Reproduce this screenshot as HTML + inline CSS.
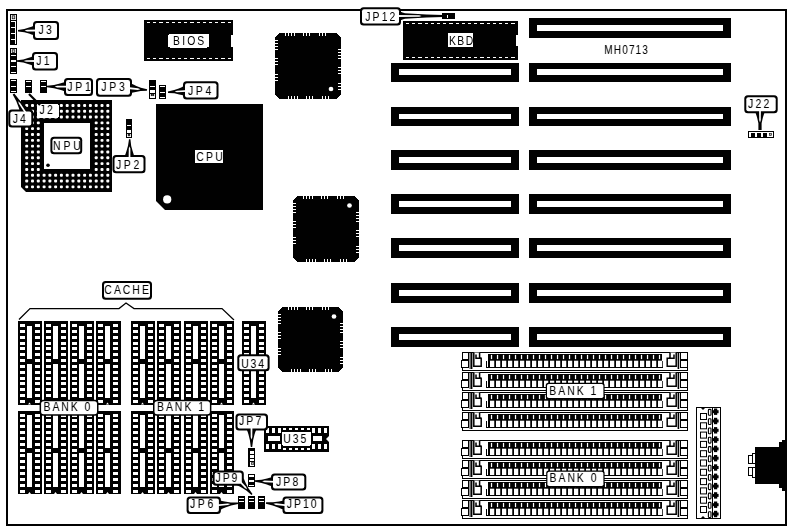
<!DOCTYPE html>
<html><head><meta charset="utf-8"><title>MH0713</title>
<style>
html,body{margin:0;padding:0;background:#fff;}
body{width:791px;height:531px;overflow:hidden;}
svg{display:block;filter:grayscale(1);}
svg text{font-family:"Liberation Sans",sans-serif;}
svg rect,svg line{shape-rendering:crispEdges;}
</style></head><body>
<svg width="791" height="531" viewBox="0 0 791 531">
<rect x="0" y="0" width="791" height="531" fill="#fff"/>
<g opacity="0.999">
<rect x="7" y="10" width="779" height="515" fill="#fff" stroke="#000" stroke-width="2"/>
<rect x="529" y="18" width="202" height="20" fill="#000" />
<rect x="537" y="25" width="186" height="6" fill="#fff" />
<rect x="529" y="63" width="202" height="19" fill="#000" />
<rect x="537" y="69" width="186" height="6" fill="#fff" />
<rect x="391" y="63" width="128" height="19" fill="#000" />
<rect x="399" y="69" width="112" height="6" fill="#fff" />
<rect x="529" y="107" width="202" height="19" fill="#000" />
<rect x="537" y="114" width="186" height="5" fill="#fff" />
<rect x="391" y="107" width="128" height="19" fill="#000" />
<rect x="399" y="114" width="112" height="5" fill="#fff" />
<rect x="529" y="150" width="202" height="20" fill="#000" />
<rect x="537" y="157" width="186" height="6" fill="#fff" />
<rect x="391" y="150" width="128" height="20" fill="#000" />
<rect x="399" y="157" width="112" height="6" fill="#fff" />
<rect x="529" y="194" width="202" height="20" fill="#000" />
<rect x="537" y="201" width="186" height="6" fill="#fff" />
<rect x="391" y="194" width="128" height="20" fill="#000" />
<rect x="399" y="201" width="112" height="6" fill="#fff" />
<rect x="529" y="238" width="202" height="20" fill="#000" />
<rect x="537" y="245" width="186" height="6" fill="#fff" />
<rect x="391" y="238" width="128" height="20" fill="#000" />
<rect x="399" y="245" width="112" height="6" fill="#fff" />
<rect x="529" y="283" width="202" height="20" fill="#000" />
<rect x="537" y="290" width="186" height="6" fill="#fff" />
<rect x="391" y="283" width="128" height="20" fill="#000" />
<rect x="399" y="290" width="112" height="6" fill="#fff" />
<rect x="529" y="327" width="202" height="20" fill="#000" />
<rect x="537" y="334" width="186" height="6" fill="#fff" />
<rect x="391" y="327" width="128" height="20" fill="#000" />
<rect x="399" y="334" width="112" height="6" fill="#fff" />
<rect x="144" y="20" width="89" height="41" fill="#000" />
<line x1="147" y1="22.5" x2="231" y2="22.5" stroke="#fff" stroke-width="1" stroke-dasharray="3.2 3"/>
<line x1="147" y1="58.5" x2="231" y2="58.5" stroke="#fff" stroke-width="1" stroke-dasharray="3.2 3"/>
<rect x="231" y="35" width="2" height="12" fill="#fff" />
<rect x="403" y="21" width="115" height="39" fill="#000" />
<line x1="406" y1="23.5" x2="516" y2="23.5" stroke="#fff" stroke-width="1" stroke-dasharray="3.2 3"/>
<line x1="406" y1="57.5" x2="516" y2="57.5" stroke="#fff" stroke-width="1" stroke-dasharray="3.2 3"/>
<rect x="516" y="35" width="2" height="11" fill="#fff" />
<path d="M156,104 H263 V210 H165 L156,201 Z" fill="#000" stroke="none" stroke-width="0" />
<circle cx="167.2" cy="199.4" r="4.1" fill="#fff"/>
<rect x="277" y="35" width="62" height="62" fill="#000" />
<rect x="279" y="33" width="58" height="3" fill="#000" />
<rect x="279" y="96" width="58" height="3" fill="#000" />
<rect x="275" y="37" width="3" height="58" fill="#000" />
<rect x="338" y="37" width="3" height="58" fill="#000" />
<rect x="278" y="34" width="60" height="64" fill="#000" />
<rect x="276" y="36" width="64" height="60" fill="#000" />
<rect x="285" y="33" width="1" height="3" fill="#fff" />
<rect x="288" y="96" width="1" height="3" fill="#fff" />
<rect x="275" y="40" width="3" height="1" fill="#fff" />
<rect x="338" y="49" width="3" height="1" fill="#fff" />
<rect x="288" y="33" width="1" height="3" fill="#fff" />
<rect x="291" y="96" width="1" height="3" fill="#fff" />
<rect x="275" y="43" width="3" height="1" fill="#fff" />
<rect x="338" y="52" width="3" height="1" fill="#fff" />
<rect x="291" y="33" width="1" height="3" fill="#fff" />
<rect x="294" y="96" width="1" height="3" fill="#fff" />
<rect x="275" y="46" width="3" height="1" fill="#fff" />
<rect x="338" y="55" width="3" height="1" fill="#fff" />
<rect x="294" y="33" width="1" height="3" fill="#fff" />
<rect x="297" y="96" width="1" height="3" fill="#fff" />
<rect x="275" y="49" width="3" height="1" fill="#fff" />
<rect x="338" y="58" width="3" height="1" fill="#fff" />
<rect x="303" y="33" width="1" height="3" fill="#fff" />
<rect x="306" y="96" width="1" height="3" fill="#fff" />
<rect x="275" y="58" width="3" height="1" fill="#fff" />
<rect x="338" y="67" width="3" height="1" fill="#fff" />
<rect x="306" y="33" width="1" height="3" fill="#fff" />
<rect x="309" y="96" width="1" height="3" fill="#fff" />
<rect x="275" y="61" width="3" height="1" fill="#fff" />
<rect x="338" y="70" width="3" height="1" fill="#fff" />
<rect x="309" y="33" width="1" height="3" fill="#fff" />
<rect x="312" y="96" width="1" height="3" fill="#fff" />
<rect x="275" y="64" width="3" height="1" fill="#fff" />
<rect x="338" y="73" width="3" height="1" fill="#fff" />
<rect x="319" y="33" width="1" height="3" fill="#fff" />
<rect x="322" y="96" width="1" height="3" fill="#fff" />
<rect x="275" y="74" width="3" height="1" fill="#fff" />
<rect x="338" y="83" width="3" height="1" fill="#fff" />
<rect x="322" y="33" width="1" height="3" fill="#fff" />
<rect x="325" y="96" width="1" height="3" fill="#fff" />
<rect x="275" y="77" width="3" height="1" fill="#fff" />
<rect x="338" y="86" width="3" height="1" fill="#fff" />
<rect x="325" y="33" width="1" height="3" fill="#fff" />
<rect x="328" y="96" width="1" height="3" fill="#fff" />
<rect x="275" y="80" width="3" height="1" fill="#fff" />
<rect x="338" y="89" width="3" height="1" fill="#fff" />
<circle cx="331" cy="89" r="2.35" fill="#fff"/>
<rect x="295" y="198" width="62" height="62" fill="#000" />
<rect x="297" y="196" width="58" height="3" fill="#000" />
<rect x="297" y="259" width="58" height="3" fill="#000" />
<rect x="293" y="200" width="3" height="58" fill="#000" />
<rect x="356" y="200" width="3" height="58" fill="#000" />
<rect x="296" y="197" width="60" height="64" fill="#000" />
<rect x="294" y="199" width="64" height="60" fill="#000" />
<rect x="303" y="196" width="1" height="3" fill="#fff" />
<rect x="306" y="259" width="1" height="3" fill="#fff" />
<rect x="293" y="203" width="3" height="1" fill="#fff" />
<rect x="356" y="212" width="3" height="1" fill="#fff" />
<rect x="306" y="196" width="1" height="3" fill="#fff" />
<rect x="309" y="259" width="1" height="3" fill="#fff" />
<rect x="293" y="206" width="3" height="1" fill="#fff" />
<rect x="356" y="215" width="3" height="1" fill="#fff" />
<rect x="309" y="196" width="1" height="3" fill="#fff" />
<rect x="312" y="259" width="1" height="3" fill="#fff" />
<rect x="293" y="209" width="3" height="1" fill="#fff" />
<rect x="356" y="218" width="3" height="1" fill="#fff" />
<rect x="312" y="196" width="1" height="3" fill="#fff" />
<rect x="315" y="259" width="1" height="3" fill="#fff" />
<rect x="293" y="212" width="3" height="1" fill="#fff" />
<rect x="356" y="221" width="3" height="1" fill="#fff" />
<rect x="321" y="196" width="1" height="3" fill="#fff" />
<rect x="324" y="259" width="1" height="3" fill="#fff" />
<rect x="293" y="221" width="3" height="1" fill="#fff" />
<rect x="356" y="230" width="3" height="1" fill="#fff" />
<rect x="324" y="196" width="1" height="3" fill="#fff" />
<rect x="327" y="259" width="1" height="3" fill="#fff" />
<rect x="293" y="224" width="3" height="1" fill="#fff" />
<rect x="356" y="233" width="3" height="1" fill="#fff" />
<rect x="327" y="196" width="1" height="3" fill="#fff" />
<rect x="330" y="259" width="1" height="3" fill="#fff" />
<rect x="293" y="227" width="3" height="1" fill="#fff" />
<rect x="356" y="236" width="3" height="1" fill="#fff" />
<rect x="337" y="196" width="1" height="3" fill="#fff" />
<rect x="340" y="259" width="1" height="3" fill="#fff" />
<rect x="293" y="237" width="3" height="1" fill="#fff" />
<rect x="356" y="246" width="3" height="1" fill="#fff" />
<rect x="340" y="196" width="1" height="3" fill="#fff" />
<rect x="343" y="259" width="1" height="3" fill="#fff" />
<rect x="293" y="240" width="3" height="1" fill="#fff" />
<rect x="356" y="249" width="3" height="1" fill="#fff" />
<rect x="343" y="196" width="1" height="3" fill="#fff" />
<rect x="346" y="259" width="1" height="3" fill="#fff" />
<rect x="293" y="243" width="3" height="1" fill="#fff" />
<rect x="356" y="252" width="3" height="1" fill="#fff" />
<circle cx="349.5" cy="205.5" r="2.35" fill="#fff"/>
<rect x="280" y="309" width="61" height="61" fill="#000" />
<rect x="282" y="307" width="57" height="3" fill="#000" />
<rect x="282" y="369" width="57" height="3" fill="#000" />
<rect x="278" y="311" width="3" height="57" fill="#000" />
<rect x="340" y="311" width="3" height="57" fill="#000" />
<rect x="281" y="308" width="59" height="63" fill="#000" />
<rect x="279" y="310" width="63" height="59" fill="#000" />
<rect x="288" y="307" width="1" height="3" fill="#fff" />
<rect x="291" y="369" width="1" height="3" fill="#fff" />
<rect x="278" y="314" width="3" height="1" fill="#fff" />
<rect x="340" y="323" width="3" height="1" fill="#fff" />
<rect x="291" y="307" width="1" height="3" fill="#fff" />
<rect x="294" y="369" width="1" height="3" fill="#fff" />
<rect x="278" y="317" width="3" height="1" fill="#fff" />
<rect x="340" y="326" width="3" height="1" fill="#fff" />
<rect x="294" y="307" width="1" height="3" fill="#fff" />
<rect x="297" y="369" width="1" height="3" fill="#fff" />
<rect x="278" y="320" width="3" height="1" fill="#fff" />
<rect x="340" y="329" width="3" height="1" fill="#fff" />
<rect x="297" y="307" width="1" height="3" fill="#fff" />
<rect x="300" y="369" width="1" height="3" fill="#fff" />
<rect x="278" y="323" width="3" height="1" fill="#fff" />
<rect x="340" y="332" width="3" height="1" fill="#fff" />
<rect x="306" y="307" width="1" height="3" fill="#fff" />
<rect x="309" y="369" width="1" height="3" fill="#fff" />
<rect x="278" y="332" width="3" height="1" fill="#fff" />
<rect x="340" y="341" width="3" height="1" fill="#fff" />
<rect x="309" y="307" width="1" height="3" fill="#fff" />
<rect x="312" y="369" width="1" height="3" fill="#fff" />
<rect x="278" y="335" width="3" height="1" fill="#fff" />
<rect x="340" y="344" width="3" height="1" fill="#fff" />
<rect x="312" y="307" width="1" height="3" fill="#fff" />
<rect x="315" y="369" width="1" height="3" fill="#fff" />
<rect x="278" y="338" width="3" height="1" fill="#fff" />
<rect x="340" y="347" width="3" height="1" fill="#fff" />
<rect x="322" y="307" width="1" height="3" fill="#fff" />
<rect x="325" y="369" width="1" height="3" fill="#fff" />
<rect x="278" y="348" width="3" height="1" fill="#fff" />
<rect x="340" y="357" width="3" height="1" fill="#fff" />
<rect x="325" y="307" width="1" height="3" fill="#fff" />
<rect x="328" y="369" width="1" height="3" fill="#fff" />
<rect x="278" y="351" width="3" height="1" fill="#fff" />
<rect x="340" y="360" width="3" height="1" fill="#fff" />
<rect x="328" y="307" width="1" height="3" fill="#fff" />
<rect x="331" y="369" width="1" height="3" fill="#fff" />
<rect x="278" y="354" width="3" height="1" fill="#fff" />
<rect x="340" y="363" width="3" height="1" fill="#fff" />
<circle cx="334" cy="316.5" r="2.35" fill="#fff"/>
<path d="M21,100 H112 V192 H26 L21,187 Z" fill="#000" stroke="none" stroke-width="0" />
<rect x="25.2" y="104.0" width="3" height="2.9" rx="1" fill="#fff" style="shape-rendering:auto"/>
<rect x="31.0" y="104.0" width="3" height="2.9" rx="1" fill="#fff" style="shape-rendering:auto"/>
<rect x="36.8" y="104.0" width="3" height="2.9" rx="1" fill="#fff" style="shape-rendering:auto"/>
<rect x="42.6" y="104.0" width="3" height="2.9" rx="1" fill="#fff" style="shape-rendering:auto"/>
<rect x="48.4" y="104.0" width="3" height="2.9" rx="1" fill="#fff" style="shape-rendering:auto"/>
<rect x="54.1" y="104.0" width="3" height="2.9" rx="1" fill="#fff" style="shape-rendering:auto"/>
<rect x="59.9" y="104.0" width="3" height="2.9" rx="1" fill="#fff" style="shape-rendering:auto"/>
<rect x="65.7" y="104.0" width="3" height="2.9" rx="1" fill="#fff" style="shape-rendering:auto"/>
<rect x="71.5" y="104.0" width="3" height="2.9" rx="1" fill="#fff" style="shape-rendering:auto"/>
<rect x="77.3" y="104.0" width="3" height="2.9" rx="1" fill="#fff" style="shape-rendering:auto"/>
<rect x="83.1" y="104.0" width="3" height="2.9" rx="1" fill="#fff" style="shape-rendering:auto"/>
<rect x="88.9" y="104.0" width="3" height="2.9" rx="1" fill="#fff" style="shape-rendering:auto"/>
<rect x="94.7" y="104.0" width="3" height="2.9" rx="1" fill="#fff" style="shape-rendering:auto"/>
<rect x="100.5" y="104.0" width="3" height="2.9" rx="1" fill="#fff" style="shape-rendering:auto"/>
<rect x="106.3" y="104.0" width="3" height="2.9" rx="1" fill="#fff" style="shape-rendering:auto"/>
<rect x="25.2" y="109.8" width="3" height="2.9" rx="1" fill="#fff" style="shape-rendering:auto"/>
<rect x="31.0" y="109.8" width="3" height="2.9" rx="1" fill="#fff" style="shape-rendering:auto"/>
<rect x="36.8" y="109.8" width="3" height="2.9" rx="1" fill="#fff" style="shape-rendering:auto"/>
<rect x="42.6" y="109.8" width="3" height="2.9" rx="1" fill="#fff" style="shape-rendering:auto"/>
<rect x="48.4" y="109.8" width="3" height="2.9" rx="1" fill="#fff" style="shape-rendering:auto"/>
<rect x="54.1" y="109.8" width="3" height="2.9" rx="1" fill="#fff" style="shape-rendering:auto"/>
<rect x="59.9" y="109.8" width="3" height="2.9" rx="1" fill="#fff" style="shape-rendering:auto"/>
<rect x="65.7" y="109.8" width="3" height="2.9" rx="1" fill="#fff" style="shape-rendering:auto"/>
<rect x="71.5" y="109.8" width="3" height="2.9" rx="1" fill="#fff" style="shape-rendering:auto"/>
<rect x="77.3" y="109.8" width="3" height="2.9" rx="1" fill="#fff" style="shape-rendering:auto"/>
<rect x="83.1" y="109.8" width="3" height="2.9" rx="1" fill="#fff" style="shape-rendering:auto"/>
<rect x="88.9" y="109.8" width="3" height="2.9" rx="1" fill="#fff" style="shape-rendering:auto"/>
<rect x="94.7" y="109.8" width="3" height="2.9" rx="1" fill="#fff" style="shape-rendering:auto"/>
<rect x="100.5" y="109.8" width="3" height="2.9" rx="1" fill="#fff" style="shape-rendering:auto"/>
<rect x="106.3" y="109.8" width="3" height="2.9" rx="1" fill="#fff" style="shape-rendering:auto"/>
<rect x="25.2" y="115.6" width="3" height="2.9" rx="1" fill="#fff" style="shape-rendering:auto"/>
<rect x="31.0" y="115.6" width="3" height="2.9" rx="1" fill="#fff" style="shape-rendering:auto"/>
<rect x="36.8" y="115.6" width="3" height="2.9" rx="1" fill="#fff" style="shape-rendering:auto"/>
<rect x="42.6" y="115.6" width="3" height="2.9" rx="1" fill="#fff" style="shape-rendering:auto"/>
<rect x="48.4" y="115.6" width="3" height="2.9" rx="1" fill="#fff" style="shape-rendering:auto"/>
<rect x="54.1" y="115.6" width="3" height="2.9" rx="1" fill="#fff" style="shape-rendering:auto"/>
<rect x="59.9" y="115.6" width="3" height="2.9" rx="1" fill="#fff" style="shape-rendering:auto"/>
<rect x="65.7" y="115.6" width="3" height="2.9" rx="1" fill="#fff" style="shape-rendering:auto"/>
<rect x="71.5" y="115.6" width="3" height="2.9" rx="1" fill="#fff" style="shape-rendering:auto"/>
<rect x="77.3" y="115.6" width="3" height="2.9" rx="1" fill="#fff" style="shape-rendering:auto"/>
<rect x="83.1" y="115.6" width="3" height="2.9" rx="1" fill="#fff" style="shape-rendering:auto"/>
<rect x="88.9" y="115.6" width="3" height="2.9" rx="1" fill="#fff" style="shape-rendering:auto"/>
<rect x="94.7" y="115.6" width="3" height="2.9" rx="1" fill="#fff" style="shape-rendering:auto"/>
<rect x="100.5" y="115.6" width="3" height="2.9" rx="1" fill="#fff" style="shape-rendering:auto"/>
<rect x="106.3" y="115.6" width="3" height="2.9" rx="1" fill="#fff" style="shape-rendering:auto"/>
<rect x="25.2" y="121.4" width="3" height="2.9" rx="1" fill="#fff" style="shape-rendering:auto"/>
<rect x="31.0" y="121.4" width="3" height="2.9" rx="1" fill="#fff" style="shape-rendering:auto"/>
<rect x="36.8" y="121.4" width="3" height="2.9" rx="1" fill="#fff" style="shape-rendering:auto"/>
<rect x="94.7" y="121.4" width="3" height="2.9" rx="1" fill="#fff" style="shape-rendering:auto"/>
<rect x="100.5" y="121.4" width="3" height="2.9" rx="1" fill="#fff" style="shape-rendering:auto"/>
<rect x="106.3" y="121.4" width="3" height="2.9" rx="1" fill="#fff" style="shape-rendering:auto"/>
<rect x="25.2" y="127.2" width="3" height="2.9" rx="1" fill="#fff" style="shape-rendering:auto"/>
<rect x="31.0" y="127.2" width="3" height="2.9" rx="1" fill="#fff" style="shape-rendering:auto"/>
<rect x="36.8" y="127.2" width="3" height="2.9" rx="1" fill="#fff" style="shape-rendering:auto"/>
<rect x="94.7" y="127.2" width="3" height="2.9" rx="1" fill="#fff" style="shape-rendering:auto"/>
<rect x="100.5" y="127.2" width="3" height="2.9" rx="1" fill="#fff" style="shape-rendering:auto"/>
<rect x="106.3" y="127.2" width="3" height="2.9" rx="1" fill="#fff" style="shape-rendering:auto"/>
<rect x="25.2" y="133.1" width="3" height="2.9" rx="1" fill="#fff" style="shape-rendering:auto"/>
<rect x="31.0" y="133.1" width="3" height="2.9" rx="1" fill="#fff" style="shape-rendering:auto"/>
<rect x="36.8" y="133.1" width="3" height="2.9" rx="1" fill="#fff" style="shape-rendering:auto"/>
<rect x="94.7" y="133.1" width="3" height="2.9" rx="1" fill="#fff" style="shape-rendering:auto"/>
<rect x="100.5" y="133.1" width="3" height="2.9" rx="1" fill="#fff" style="shape-rendering:auto"/>
<rect x="106.3" y="133.1" width="3" height="2.9" rx="1" fill="#fff" style="shape-rendering:auto"/>
<rect x="25.2" y="138.9" width="3" height="2.9" rx="1" fill="#fff" style="shape-rendering:auto"/>
<rect x="31.0" y="138.9" width="3" height="2.9" rx="1" fill="#fff" style="shape-rendering:auto"/>
<rect x="36.8" y="138.9" width="3" height="2.9" rx="1" fill="#fff" style="shape-rendering:auto"/>
<rect x="94.7" y="138.9" width="3" height="2.9" rx="1" fill="#fff" style="shape-rendering:auto"/>
<rect x="100.5" y="138.9" width="3" height="2.9" rx="1" fill="#fff" style="shape-rendering:auto"/>
<rect x="106.3" y="138.9" width="3" height="2.9" rx="1" fill="#fff" style="shape-rendering:auto"/>
<rect x="25.2" y="144.7" width="3" height="2.9" rx="1" fill="#fff" style="shape-rendering:auto"/>
<rect x="31.0" y="144.7" width="3" height="2.9" rx="1" fill="#fff" style="shape-rendering:auto"/>
<rect x="36.8" y="144.7" width="3" height="2.9" rx="1" fill="#fff" style="shape-rendering:auto"/>
<rect x="94.7" y="144.7" width="3" height="2.9" rx="1" fill="#fff" style="shape-rendering:auto"/>
<rect x="100.5" y="144.7" width="3" height="2.9" rx="1" fill="#fff" style="shape-rendering:auto"/>
<rect x="106.3" y="144.7" width="3" height="2.9" rx="1" fill="#fff" style="shape-rendering:auto"/>
<rect x="25.2" y="150.5" width="3" height="2.9" rx="1" fill="#fff" style="shape-rendering:auto"/>
<rect x="31.0" y="150.5" width="3" height="2.9" rx="1" fill="#fff" style="shape-rendering:auto"/>
<rect x="36.8" y="150.5" width="3" height="2.9" rx="1" fill="#fff" style="shape-rendering:auto"/>
<rect x="94.7" y="150.5" width="3" height="2.9" rx="1" fill="#fff" style="shape-rendering:auto"/>
<rect x="100.5" y="150.5" width="3" height="2.9" rx="1" fill="#fff" style="shape-rendering:auto"/>
<rect x="106.3" y="150.5" width="3" height="2.9" rx="1" fill="#fff" style="shape-rendering:auto"/>
<rect x="25.2" y="156.3" width="3" height="2.9" rx="1" fill="#fff" style="shape-rendering:auto"/>
<rect x="31.0" y="156.3" width="3" height="2.9" rx="1" fill="#fff" style="shape-rendering:auto"/>
<rect x="36.8" y="156.3" width="3" height="2.9" rx="1" fill="#fff" style="shape-rendering:auto"/>
<rect x="94.7" y="156.3" width="3" height="2.9" rx="1" fill="#fff" style="shape-rendering:auto"/>
<rect x="100.5" y="156.3" width="3" height="2.9" rx="1" fill="#fff" style="shape-rendering:auto"/>
<rect x="106.3" y="156.3" width="3" height="2.9" rx="1" fill="#fff" style="shape-rendering:auto"/>
<rect x="25.2" y="162.2" width="3" height="2.9" rx="1" fill="#fff" style="shape-rendering:auto"/>
<rect x="31.0" y="162.2" width="3" height="2.9" rx="1" fill="#fff" style="shape-rendering:auto"/>
<rect x="36.8" y="162.2" width="3" height="2.9" rx="1" fill="#fff" style="shape-rendering:auto"/>
<rect x="94.7" y="162.2" width="3" height="2.9" rx="1" fill="#fff" style="shape-rendering:auto"/>
<rect x="100.5" y="162.2" width="3" height="2.9" rx="1" fill="#fff" style="shape-rendering:auto"/>
<rect x="106.3" y="162.2" width="3" height="2.9" rx="1" fill="#fff" style="shape-rendering:auto"/>
<rect x="25.2" y="168.0" width="3" height="2.9" rx="1" fill="#fff" style="shape-rendering:auto"/>
<rect x="31.0" y="168.0" width="3" height="2.9" rx="1" fill="#fff" style="shape-rendering:auto"/>
<rect x="36.8" y="168.0" width="3" height="2.9" rx="1" fill="#fff" style="shape-rendering:auto"/>
<rect x="94.7" y="168.0" width="3" height="2.9" rx="1" fill="#fff" style="shape-rendering:auto"/>
<rect x="100.5" y="168.0" width="3" height="2.9" rx="1" fill="#fff" style="shape-rendering:auto"/>
<rect x="106.3" y="168.0" width="3" height="2.9" rx="1" fill="#fff" style="shape-rendering:auto"/>
<rect x="25.2" y="173.8" width="3" height="2.9" rx="1" fill="#fff" style="shape-rendering:auto"/>
<rect x="31.0" y="173.8" width="3" height="2.9" rx="1" fill="#fff" style="shape-rendering:auto"/>
<rect x="36.8" y="173.8" width="3" height="2.9" rx="1" fill="#fff" style="shape-rendering:auto"/>
<rect x="42.6" y="173.8" width="3" height="2.9" rx="1" fill="#fff" style="shape-rendering:auto"/>
<rect x="48.4" y="173.8" width="3" height="2.9" rx="1" fill="#fff" style="shape-rendering:auto"/>
<rect x="54.1" y="173.8" width="3" height="2.9" rx="1" fill="#fff" style="shape-rendering:auto"/>
<rect x="59.9" y="173.8" width="3" height="2.9" rx="1" fill="#fff" style="shape-rendering:auto"/>
<rect x="65.7" y="173.8" width="3" height="2.9" rx="1" fill="#fff" style="shape-rendering:auto"/>
<rect x="71.5" y="173.8" width="3" height="2.9" rx="1" fill="#fff" style="shape-rendering:auto"/>
<rect x="77.3" y="173.8" width="3" height="2.9" rx="1" fill="#fff" style="shape-rendering:auto"/>
<rect x="83.1" y="173.8" width="3" height="2.9" rx="1" fill="#fff" style="shape-rendering:auto"/>
<rect x="88.9" y="173.8" width="3" height="2.9" rx="1" fill="#fff" style="shape-rendering:auto"/>
<rect x="94.7" y="173.8" width="3" height="2.9" rx="1" fill="#fff" style="shape-rendering:auto"/>
<rect x="100.5" y="173.8" width="3" height="2.9" rx="1" fill="#fff" style="shape-rendering:auto"/>
<rect x="106.3" y="173.8" width="3" height="2.9" rx="1" fill="#fff" style="shape-rendering:auto"/>
<rect x="25.2" y="179.6" width="3" height="2.9" rx="1" fill="#fff" style="shape-rendering:auto"/>
<rect x="31.0" y="179.6" width="3" height="2.9" rx="1" fill="#fff" style="shape-rendering:auto"/>
<rect x="36.8" y="179.6" width="3" height="2.9" rx="1" fill="#fff" style="shape-rendering:auto"/>
<rect x="42.6" y="179.6" width="3" height="2.9" rx="1" fill="#fff" style="shape-rendering:auto"/>
<rect x="48.4" y="179.6" width="3" height="2.9" rx="1" fill="#fff" style="shape-rendering:auto"/>
<rect x="54.1" y="179.6" width="3" height="2.9" rx="1" fill="#fff" style="shape-rendering:auto"/>
<rect x="59.9" y="179.6" width="3" height="2.9" rx="1" fill="#fff" style="shape-rendering:auto"/>
<rect x="65.7" y="179.6" width="3" height="2.9" rx="1" fill="#fff" style="shape-rendering:auto"/>
<rect x="71.5" y="179.6" width="3" height="2.9" rx="1" fill="#fff" style="shape-rendering:auto"/>
<rect x="77.3" y="179.6" width="3" height="2.9" rx="1" fill="#fff" style="shape-rendering:auto"/>
<rect x="83.1" y="179.6" width="3" height="2.9" rx="1" fill="#fff" style="shape-rendering:auto"/>
<rect x="88.9" y="179.6" width="3" height="2.9" rx="1" fill="#fff" style="shape-rendering:auto"/>
<rect x="94.7" y="179.6" width="3" height="2.9" rx="1" fill="#fff" style="shape-rendering:auto"/>
<rect x="100.5" y="179.6" width="3" height="2.9" rx="1" fill="#fff" style="shape-rendering:auto"/>
<rect x="106.3" y="179.6" width="3" height="2.9" rx="1" fill="#fff" style="shape-rendering:auto"/>
<rect x="25.2" y="185.4" width="3" height="2.9" rx="1" fill="#fff" style="shape-rendering:auto"/>
<rect x="31.0" y="185.4" width="3" height="2.9" rx="1" fill="#fff" style="shape-rendering:auto"/>
<rect x="36.8" y="185.4" width="3" height="2.9" rx="1" fill="#fff" style="shape-rendering:auto"/>
<rect x="42.6" y="185.4" width="3" height="2.9" rx="1" fill="#fff" style="shape-rendering:auto"/>
<rect x="48.4" y="185.4" width="3" height="2.9" rx="1" fill="#fff" style="shape-rendering:auto"/>
<rect x="54.1" y="185.4" width="3" height="2.9" rx="1" fill="#fff" style="shape-rendering:auto"/>
<rect x="59.9" y="185.4" width="3" height="2.9" rx="1" fill="#fff" style="shape-rendering:auto"/>
<rect x="65.7" y="185.4" width="3" height="2.9" rx="1" fill="#fff" style="shape-rendering:auto"/>
<rect x="71.5" y="185.4" width="3" height="2.9" rx="1" fill="#fff" style="shape-rendering:auto"/>
<rect x="77.3" y="185.4" width="3" height="2.9" rx="1" fill="#fff" style="shape-rendering:auto"/>
<rect x="83.1" y="185.4" width="3" height="2.9" rx="1" fill="#fff" style="shape-rendering:auto"/>
<rect x="88.9" y="185.4" width="3" height="2.9" rx="1" fill="#fff" style="shape-rendering:auto"/>
<rect x="94.7" y="185.4" width="3" height="2.9" rx="1" fill="#fff" style="shape-rendering:auto"/>
<rect x="100.5" y="185.4" width="3" height="2.9" rx="1" fill="#fff" style="shape-rendering:auto"/>
<rect x="106.3" y="185.4" width="3" height="2.9" rx="1" fill="#fff" style="shape-rendering:auto"/>
<rect x="44" y="123" width="45.5" height="46" fill="#fff" />
<circle cx="48" cy="165.3" r="1.8" fill="#000"/>
<rect x="18" y="321" width="24" height="83.5" fill="#000" />
<rect x="20" y="324" width="5" height="3" fill="#fff" />
<rect x="35" y="324" width="5" height="3" fill="#fff" />
<rect x="20" y="330" width="5" height="3" fill="#fff" />
<rect x="35" y="330" width="5" height="3" fill="#fff" />
<rect x="20" y="336" width="5" height="3" fill="#fff" />
<rect x="35" y="336" width="5" height="3" fill="#fff" />
<rect x="20" y="342" width="5" height="3" fill="#fff" />
<rect x="35" y="342" width="5" height="3" fill="#fff" />
<rect x="20" y="347" width="5" height="3" fill="#fff" />
<rect x="35" y="347" width="5" height="3" fill="#fff" />
<rect x="20" y="353" width="5" height="3" fill="#fff" />
<rect x="35" y="353" width="5" height="3" fill="#fff" />
<rect x="20" y="359" width="5" height="3" fill="#fff" />
<rect x="35" y="359" width="5" height="3" fill="#fff" />
<rect x="20" y="365" width="5" height="3" fill="#fff" />
<rect x="35" y="365" width="5" height="3" fill="#fff" />
<rect x="20" y="371" width="5" height="3" fill="#fff" />
<rect x="35" y="371" width="5" height="3" fill="#fff" />
<rect x="20" y="377" width="5" height="3" fill="#fff" />
<rect x="35" y="377" width="5" height="3" fill="#fff" />
<rect x="20" y="382" width="5" height="3" fill="#fff" />
<rect x="35" y="382" width="5" height="3" fill="#fff" />
<rect x="20" y="388" width="5" height="3" fill="#fff" />
<rect x="35" y="388" width="5" height="3" fill="#fff" />
<rect x="20" y="394" width="5" height="3" fill="#fff" />
<rect x="35" y="394" width="5" height="3" fill="#fff" />
<rect x="20" y="400" width="5" height="3" fill="#fff" />
<rect x="35" y="400" width="5" height="3" fill="#fff" />
<rect x="27" y="326" width="5" height="33" fill="#fff" />
<rect x="27" y="364" width="5" height="34" fill="#fff" />
<path d="M28,404.5 L29.5,402.5 L31,404.5 Z" fill="#fff" stroke="none" stroke-width="0" />
<rect x="44" y="321" width="24" height="83.5" fill="#000" />
<rect x="46" y="324" width="5" height="3" fill="#fff" />
<rect x="61" y="324" width="5" height="3" fill="#fff" />
<rect x="46" y="330" width="5" height="3" fill="#fff" />
<rect x="61" y="330" width="5" height="3" fill="#fff" />
<rect x="46" y="336" width="5" height="3" fill="#fff" />
<rect x="61" y="336" width="5" height="3" fill="#fff" />
<rect x="46" y="342" width="5" height="3" fill="#fff" />
<rect x="61" y="342" width="5" height="3" fill="#fff" />
<rect x="46" y="347" width="5" height="3" fill="#fff" />
<rect x="61" y="347" width="5" height="3" fill="#fff" />
<rect x="46" y="353" width="5" height="3" fill="#fff" />
<rect x="61" y="353" width="5" height="3" fill="#fff" />
<rect x="46" y="359" width="5" height="3" fill="#fff" />
<rect x="61" y="359" width="5" height="3" fill="#fff" />
<rect x="46" y="365" width="5" height="3" fill="#fff" />
<rect x="61" y="365" width="5" height="3" fill="#fff" />
<rect x="46" y="371" width="5" height="3" fill="#fff" />
<rect x="61" y="371" width="5" height="3" fill="#fff" />
<rect x="46" y="377" width="5" height="3" fill="#fff" />
<rect x="61" y="377" width="5" height="3" fill="#fff" />
<rect x="46" y="382" width="5" height="3" fill="#fff" />
<rect x="61" y="382" width="5" height="3" fill="#fff" />
<rect x="46" y="388" width="5" height="3" fill="#fff" />
<rect x="61" y="388" width="5" height="3" fill="#fff" />
<rect x="46" y="394" width="5" height="3" fill="#fff" />
<rect x="61" y="394" width="5" height="3" fill="#fff" />
<rect x="46" y="400" width="5" height="3" fill="#fff" />
<rect x="61" y="400" width="5" height="3" fill="#fff" />
<rect x="53" y="326" width="5" height="33" fill="#fff" />
<rect x="53" y="364" width="5" height="34" fill="#fff" />
<path d="M54,404.5 L55.5,402.5 L57,404.5 Z" fill="#fff" stroke="none" stroke-width="0" />
<rect x="70" y="321" width="24" height="83.5" fill="#000" />
<rect x="72" y="324" width="5" height="3" fill="#fff" />
<rect x="87" y="324" width="5" height="3" fill="#fff" />
<rect x="72" y="330" width="5" height="3" fill="#fff" />
<rect x="87" y="330" width="5" height="3" fill="#fff" />
<rect x="72" y="336" width="5" height="3" fill="#fff" />
<rect x="87" y="336" width="5" height="3" fill="#fff" />
<rect x="72" y="342" width="5" height="3" fill="#fff" />
<rect x="87" y="342" width="5" height="3" fill="#fff" />
<rect x="72" y="347" width="5" height="3" fill="#fff" />
<rect x="87" y="347" width="5" height="3" fill="#fff" />
<rect x="72" y="353" width="5" height="3" fill="#fff" />
<rect x="87" y="353" width="5" height="3" fill="#fff" />
<rect x="72" y="359" width="5" height="3" fill="#fff" />
<rect x="87" y="359" width="5" height="3" fill="#fff" />
<rect x="72" y="365" width="5" height="3" fill="#fff" />
<rect x="87" y="365" width="5" height="3" fill="#fff" />
<rect x="72" y="371" width="5" height="3" fill="#fff" />
<rect x="87" y="371" width="5" height="3" fill="#fff" />
<rect x="72" y="377" width="5" height="3" fill="#fff" />
<rect x="87" y="377" width="5" height="3" fill="#fff" />
<rect x="72" y="382" width="5" height="3" fill="#fff" />
<rect x="87" y="382" width="5" height="3" fill="#fff" />
<rect x="72" y="388" width="5" height="3" fill="#fff" />
<rect x="87" y="388" width="5" height="3" fill="#fff" />
<rect x="72" y="394" width="5" height="3" fill="#fff" />
<rect x="87" y="394" width="5" height="3" fill="#fff" />
<rect x="72" y="400" width="5" height="3" fill="#fff" />
<rect x="87" y="400" width="5" height="3" fill="#fff" />
<rect x="79" y="326" width="5" height="33" fill="#fff" />
<rect x="79" y="364" width="5" height="34" fill="#fff" />
<path d="M80,404.5 L81.5,402.5 L83,404.5 Z" fill="#fff" stroke="none" stroke-width="0" />
<rect x="96" y="321" width="25" height="83.5" fill="#000" />
<rect x="98" y="324" width="5" height="3" fill="#fff" />
<rect x="113" y="324" width="5" height="3" fill="#fff" />
<rect x="98" y="330" width="5" height="3" fill="#fff" />
<rect x="113" y="330" width="5" height="3" fill="#fff" />
<rect x="98" y="336" width="5" height="3" fill="#fff" />
<rect x="113" y="336" width="5" height="3" fill="#fff" />
<rect x="98" y="342" width="5" height="3" fill="#fff" />
<rect x="113" y="342" width="5" height="3" fill="#fff" />
<rect x="98" y="347" width="5" height="3" fill="#fff" />
<rect x="113" y="347" width="5" height="3" fill="#fff" />
<rect x="98" y="353" width="5" height="3" fill="#fff" />
<rect x="113" y="353" width="5" height="3" fill="#fff" />
<rect x="98" y="359" width="5" height="3" fill="#fff" />
<rect x="113" y="359" width="5" height="3" fill="#fff" />
<rect x="98" y="365" width="5" height="3" fill="#fff" />
<rect x="113" y="365" width="5" height="3" fill="#fff" />
<rect x="98" y="371" width="5" height="3" fill="#fff" />
<rect x="113" y="371" width="5" height="3" fill="#fff" />
<rect x="98" y="377" width="5" height="3" fill="#fff" />
<rect x="113" y="377" width="5" height="3" fill="#fff" />
<rect x="98" y="382" width="5" height="3" fill="#fff" />
<rect x="113" y="382" width="5" height="3" fill="#fff" />
<rect x="98" y="388" width="5" height="3" fill="#fff" />
<rect x="113" y="388" width="5" height="3" fill="#fff" />
<rect x="98" y="394" width="5" height="3" fill="#fff" />
<rect x="113" y="394" width="5" height="3" fill="#fff" />
<rect x="98" y="400" width="5" height="3" fill="#fff" />
<rect x="113" y="400" width="5" height="3" fill="#fff" />
<rect x="105" y="326" width="5" height="33" fill="#fff" />
<rect x="105" y="364" width="5" height="34" fill="#fff" />
<path d="M106,404.5 L107.5,402.5 L109,404.5 Z" fill="#fff" stroke="none" stroke-width="0" />
<rect x="131" y="321" width="24" height="83.5" fill="#000" />
<rect x="133" y="324" width="5" height="3" fill="#fff" />
<rect x="148" y="324" width="5" height="3" fill="#fff" />
<rect x="133" y="330" width="5" height="3" fill="#fff" />
<rect x="148" y="330" width="5" height="3" fill="#fff" />
<rect x="133" y="336" width="5" height="3" fill="#fff" />
<rect x="148" y="336" width="5" height="3" fill="#fff" />
<rect x="133" y="342" width="5" height="3" fill="#fff" />
<rect x="148" y="342" width="5" height="3" fill="#fff" />
<rect x="133" y="347" width="5" height="3" fill="#fff" />
<rect x="148" y="347" width="5" height="3" fill="#fff" />
<rect x="133" y="353" width="5" height="3" fill="#fff" />
<rect x="148" y="353" width="5" height="3" fill="#fff" />
<rect x="133" y="359" width="5" height="3" fill="#fff" />
<rect x="148" y="359" width="5" height="3" fill="#fff" />
<rect x="133" y="365" width="5" height="3" fill="#fff" />
<rect x="148" y="365" width="5" height="3" fill="#fff" />
<rect x="133" y="371" width="5" height="3" fill="#fff" />
<rect x="148" y="371" width="5" height="3" fill="#fff" />
<rect x="133" y="377" width="5" height="3" fill="#fff" />
<rect x="148" y="377" width="5" height="3" fill="#fff" />
<rect x="133" y="382" width="5" height="3" fill="#fff" />
<rect x="148" y="382" width="5" height="3" fill="#fff" />
<rect x="133" y="388" width="5" height="3" fill="#fff" />
<rect x="148" y="388" width="5" height="3" fill="#fff" />
<rect x="133" y="394" width="5" height="3" fill="#fff" />
<rect x="148" y="394" width="5" height="3" fill="#fff" />
<rect x="133" y="400" width="5" height="3" fill="#fff" />
<rect x="148" y="400" width="5" height="3" fill="#fff" />
<rect x="140" y="326" width="5" height="33" fill="#fff" />
<rect x="140" y="364" width="5" height="34" fill="#fff" />
<path d="M141,404.5 L142.5,402.5 L144,404.5 Z" fill="#fff" stroke="none" stroke-width="0" />
<rect x="157" y="321" width="24" height="83.5" fill="#000" />
<rect x="159" y="324" width="5" height="3" fill="#fff" />
<rect x="174" y="324" width="5" height="3" fill="#fff" />
<rect x="159" y="330" width="5" height="3" fill="#fff" />
<rect x="174" y="330" width="5" height="3" fill="#fff" />
<rect x="159" y="336" width="5" height="3" fill="#fff" />
<rect x="174" y="336" width="5" height="3" fill="#fff" />
<rect x="159" y="342" width="5" height="3" fill="#fff" />
<rect x="174" y="342" width="5" height="3" fill="#fff" />
<rect x="159" y="347" width="5" height="3" fill="#fff" />
<rect x="174" y="347" width="5" height="3" fill="#fff" />
<rect x="159" y="353" width="5" height="3" fill="#fff" />
<rect x="174" y="353" width="5" height="3" fill="#fff" />
<rect x="159" y="359" width="5" height="3" fill="#fff" />
<rect x="174" y="359" width="5" height="3" fill="#fff" />
<rect x="159" y="365" width="5" height="3" fill="#fff" />
<rect x="174" y="365" width="5" height="3" fill="#fff" />
<rect x="159" y="371" width="5" height="3" fill="#fff" />
<rect x="174" y="371" width="5" height="3" fill="#fff" />
<rect x="159" y="377" width="5" height="3" fill="#fff" />
<rect x="174" y="377" width="5" height="3" fill="#fff" />
<rect x="159" y="382" width="5" height="3" fill="#fff" />
<rect x="174" y="382" width="5" height="3" fill="#fff" />
<rect x="159" y="388" width="5" height="3" fill="#fff" />
<rect x="174" y="388" width="5" height="3" fill="#fff" />
<rect x="159" y="394" width="5" height="3" fill="#fff" />
<rect x="174" y="394" width="5" height="3" fill="#fff" />
<rect x="159" y="400" width="5" height="3" fill="#fff" />
<rect x="174" y="400" width="5" height="3" fill="#fff" />
<rect x="166" y="326" width="5" height="33" fill="#fff" />
<rect x="166" y="364" width="5" height="34" fill="#fff" />
<path d="M167,404.5 L168.5,402.5 L170,404.5 Z" fill="#fff" stroke="none" stroke-width="0" />
<rect x="184" y="321" width="24" height="83.5" fill="#000" />
<rect x="186" y="324" width="5" height="3" fill="#fff" />
<rect x="201" y="324" width="5" height="3" fill="#fff" />
<rect x="186" y="330" width="5" height="3" fill="#fff" />
<rect x="201" y="330" width="5" height="3" fill="#fff" />
<rect x="186" y="336" width="5" height="3" fill="#fff" />
<rect x="201" y="336" width="5" height="3" fill="#fff" />
<rect x="186" y="342" width="5" height="3" fill="#fff" />
<rect x="201" y="342" width="5" height="3" fill="#fff" />
<rect x="186" y="347" width="5" height="3" fill="#fff" />
<rect x="201" y="347" width="5" height="3" fill="#fff" />
<rect x="186" y="353" width="5" height="3" fill="#fff" />
<rect x="201" y="353" width="5" height="3" fill="#fff" />
<rect x="186" y="359" width="5" height="3" fill="#fff" />
<rect x="201" y="359" width="5" height="3" fill="#fff" />
<rect x="186" y="365" width="5" height="3" fill="#fff" />
<rect x="201" y="365" width="5" height="3" fill="#fff" />
<rect x="186" y="371" width="5" height="3" fill="#fff" />
<rect x="201" y="371" width="5" height="3" fill="#fff" />
<rect x="186" y="377" width="5" height="3" fill="#fff" />
<rect x="201" y="377" width="5" height="3" fill="#fff" />
<rect x="186" y="382" width="5" height="3" fill="#fff" />
<rect x="201" y="382" width="5" height="3" fill="#fff" />
<rect x="186" y="388" width="5" height="3" fill="#fff" />
<rect x="201" y="388" width="5" height="3" fill="#fff" />
<rect x="186" y="394" width="5" height="3" fill="#fff" />
<rect x="201" y="394" width="5" height="3" fill="#fff" />
<rect x="186" y="400" width="5" height="3" fill="#fff" />
<rect x="201" y="400" width="5" height="3" fill="#fff" />
<rect x="193" y="326" width="5" height="33" fill="#fff" />
<rect x="193" y="364" width="5" height="34" fill="#fff" />
<path d="M194,404.5 L195.5,402.5 L197,404.5 Z" fill="#fff" stroke="none" stroke-width="0" />
<rect x="210" y="321" width="24" height="83.5" fill="#000" />
<rect x="212" y="324" width="5" height="3" fill="#fff" />
<rect x="227" y="324" width="5" height="3" fill="#fff" />
<rect x="212" y="330" width="5" height="3" fill="#fff" />
<rect x="227" y="330" width="5" height="3" fill="#fff" />
<rect x="212" y="336" width="5" height="3" fill="#fff" />
<rect x="227" y="336" width="5" height="3" fill="#fff" />
<rect x="212" y="342" width="5" height="3" fill="#fff" />
<rect x="227" y="342" width="5" height="3" fill="#fff" />
<rect x="212" y="347" width="5" height="3" fill="#fff" />
<rect x="227" y="347" width="5" height="3" fill="#fff" />
<rect x="212" y="353" width="5" height="3" fill="#fff" />
<rect x="227" y="353" width="5" height="3" fill="#fff" />
<rect x="212" y="359" width="5" height="3" fill="#fff" />
<rect x="227" y="359" width="5" height="3" fill="#fff" />
<rect x="212" y="365" width="5" height="3" fill="#fff" />
<rect x="227" y="365" width="5" height="3" fill="#fff" />
<rect x="212" y="371" width="5" height="3" fill="#fff" />
<rect x="227" y="371" width="5" height="3" fill="#fff" />
<rect x="212" y="377" width="5" height="3" fill="#fff" />
<rect x="227" y="377" width="5" height="3" fill="#fff" />
<rect x="212" y="382" width="5" height="3" fill="#fff" />
<rect x="227" y="382" width="5" height="3" fill="#fff" />
<rect x="212" y="388" width="5" height="3" fill="#fff" />
<rect x="227" y="388" width="5" height="3" fill="#fff" />
<rect x="212" y="394" width="5" height="3" fill="#fff" />
<rect x="227" y="394" width="5" height="3" fill="#fff" />
<rect x="212" y="400" width="5" height="3" fill="#fff" />
<rect x="227" y="400" width="5" height="3" fill="#fff" />
<rect x="219" y="326" width="5" height="33" fill="#fff" />
<rect x="219" y="364" width="5" height="34" fill="#fff" />
<path d="M220,404.5 L221.5,402.5 L223,404.5 Z" fill="#fff" stroke="none" stroke-width="0" />
<rect x="18" y="410.5" width="24" height="83.5" fill="#000" />
<rect x="20" y="414" width="5" height="3" fill="#fff" />
<rect x="35" y="414" width="5" height="3" fill="#fff" />
<rect x="20" y="419" width="5" height="3" fill="#fff" />
<rect x="35" y="419" width="5" height="3" fill="#fff" />
<rect x="20" y="425" width="5" height="3" fill="#fff" />
<rect x="35" y="425" width="5" height="3" fill="#fff" />
<rect x="20" y="431" width="5" height="3" fill="#fff" />
<rect x="35" y="431" width="5" height="3" fill="#fff" />
<rect x="20" y="437" width="5" height="3" fill="#fff" />
<rect x="35" y="437" width="5" height="3" fill="#fff" />
<rect x="20" y="443" width="5" height="3" fill="#fff" />
<rect x="35" y="443" width="5" height="3" fill="#fff" />
<rect x="20" y="449" width="5" height="3" fill="#fff" />
<rect x="35" y="449" width="5" height="3" fill="#fff" />
<rect x="20" y="454" width="5" height="3" fill="#fff" />
<rect x="35" y="454" width="5" height="3" fill="#fff" />
<rect x="20" y="460" width="5" height="3" fill="#fff" />
<rect x="35" y="460" width="5" height="3" fill="#fff" />
<rect x="20" y="466" width="5" height="3" fill="#fff" />
<rect x="35" y="466" width="5" height="3" fill="#fff" />
<rect x="20" y="472" width="5" height="3" fill="#fff" />
<rect x="35" y="472" width="5" height="3" fill="#fff" />
<rect x="20" y="478" width="5" height="3" fill="#fff" />
<rect x="35" y="478" width="5" height="3" fill="#fff" />
<rect x="20" y="484" width="5" height="3" fill="#fff" />
<rect x="35" y="484" width="5" height="3" fill="#fff" />
<rect x="20" y="490" width="5" height="3" fill="#fff" />
<rect x="35" y="490" width="5" height="3" fill="#fff" />
<rect x="27" y="415" width="5" height="33" fill="#fff" />
<rect x="27" y="453" width="5" height="34" fill="#fff" />
<path d="M28,494.0 L29.5,492.0 L31,494.0 Z" fill="#fff" stroke="none" stroke-width="0" />
<rect x="44" y="410.5" width="24" height="83.5" fill="#000" />
<rect x="46" y="414" width="5" height="3" fill="#fff" />
<rect x="61" y="414" width="5" height="3" fill="#fff" />
<rect x="46" y="419" width="5" height="3" fill="#fff" />
<rect x="61" y="419" width="5" height="3" fill="#fff" />
<rect x="46" y="425" width="5" height="3" fill="#fff" />
<rect x="61" y="425" width="5" height="3" fill="#fff" />
<rect x="46" y="431" width="5" height="3" fill="#fff" />
<rect x="61" y="431" width="5" height="3" fill="#fff" />
<rect x="46" y="437" width="5" height="3" fill="#fff" />
<rect x="61" y="437" width="5" height="3" fill="#fff" />
<rect x="46" y="443" width="5" height="3" fill="#fff" />
<rect x="61" y="443" width="5" height="3" fill="#fff" />
<rect x="46" y="449" width="5" height="3" fill="#fff" />
<rect x="61" y="449" width="5" height="3" fill="#fff" />
<rect x="46" y="454" width="5" height="3" fill="#fff" />
<rect x="61" y="454" width="5" height="3" fill="#fff" />
<rect x="46" y="460" width="5" height="3" fill="#fff" />
<rect x="61" y="460" width="5" height="3" fill="#fff" />
<rect x="46" y="466" width="5" height="3" fill="#fff" />
<rect x="61" y="466" width="5" height="3" fill="#fff" />
<rect x="46" y="472" width="5" height="3" fill="#fff" />
<rect x="61" y="472" width="5" height="3" fill="#fff" />
<rect x="46" y="478" width="5" height="3" fill="#fff" />
<rect x="61" y="478" width="5" height="3" fill="#fff" />
<rect x="46" y="484" width="5" height="3" fill="#fff" />
<rect x="61" y="484" width="5" height="3" fill="#fff" />
<rect x="46" y="490" width="5" height="3" fill="#fff" />
<rect x="61" y="490" width="5" height="3" fill="#fff" />
<rect x="53" y="415" width="5" height="33" fill="#fff" />
<rect x="53" y="453" width="5" height="34" fill="#fff" />
<path d="M54,494.0 L55.5,492.0 L57,494.0 Z" fill="#fff" stroke="none" stroke-width="0" />
<rect x="70" y="410.5" width="24" height="83.5" fill="#000" />
<rect x="72" y="414" width="5" height="3" fill="#fff" />
<rect x="87" y="414" width="5" height="3" fill="#fff" />
<rect x="72" y="419" width="5" height="3" fill="#fff" />
<rect x="87" y="419" width="5" height="3" fill="#fff" />
<rect x="72" y="425" width="5" height="3" fill="#fff" />
<rect x="87" y="425" width="5" height="3" fill="#fff" />
<rect x="72" y="431" width="5" height="3" fill="#fff" />
<rect x="87" y="431" width="5" height="3" fill="#fff" />
<rect x="72" y="437" width="5" height="3" fill="#fff" />
<rect x="87" y="437" width="5" height="3" fill="#fff" />
<rect x="72" y="443" width="5" height="3" fill="#fff" />
<rect x="87" y="443" width="5" height="3" fill="#fff" />
<rect x="72" y="449" width="5" height="3" fill="#fff" />
<rect x="87" y="449" width="5" height="3" fill="#fff" />
<rect x="72" y="454" width="5" height="3" fill="#fff" />
<rect x="87" y="454" width="5" height="3" fill="#fff" />
<rect x="72" y="460" width="5" height="3" fill="#fff" />
<rect x="87" y="460" width="5" height="3" fill="#fff" />
<rect x="72" y="466" width="5" height="3" fill="#fff" />
<rect x="87" y="466" width="5" height="3" fill="#fff" />
<rect x="72" y="472" width="5" height="3" fill="#fff" />
<rect x="87" y="472" width="5" height="3" fill="#fff" />
<rect x="72" y="478" width="5" height="3" fill="#fff" />
<rect x="87" y="478" width="5" height="3" fill="#fff" />
<rect x="72" y="484" width="5" height="3" fill="#fff" />
<rect x="87" y="484" width="5" height="3" fill="#fff" />
<rect x="72" y="490" width="5" height="3" fill="#fff" />
<rect x="87" y="490" width="5" height="3" fill="#fff" />
<rect x="79" y="415" width="5" height="33" fill="#fff" />
<rect x="79" y="453" width="5" height="34" fill="#fff" />
<path d="M80,494.0 L81.5,492.0 L83,494.0 Z" fill="#fff" stroke="none" stroke-width="0" />
<rect x="96" y="410.5" width="25" height="83.5" fill="#000" />
<rect x="98" y="414" width="5" height="3" fill="#fff" />
<rect x="113" y="414" width="5" height="3" fill="#fff" />
<rect x="98" y="419" width="5" height="3" fill="#fff" />
<rect x="113" y="419" width="5" height="3" fill="#fff" />
<rect x="98" y="425" width="5" height="3" fill="#fff" />
<rect x="113" y="425" width="5" height="3" fill="#fff" />
<rect x="98" y="431" width="5" height="3" fill="#fff" />
<rect x="113" y="431" width="5" height="3" fill="#fff" />
<rect x="98" y="437" width="5" height="3" fill="#fff" />
<rect x="113" y="437" width="5" height="3" fill="#fff" />
<rect x="98" y="443" width="5" height="3" fill="#fff" />
<rect x="113" y="443" width="5" height="3" fill="#fff" />
<rect x="98" y="449" width="5" height="3" fill="#fff" />
<rect x="113" y="449" width="5" height="3" fill="#fff" />
<rect x="98" y="454" width="5" height="3" fill="#fff" />
<rect x="113" y="454" width="5" height="3" fill="#fff" />
<rect x="98" y="460" width="5" height="3" fill="#fff" />
<rect x="113" y="460" width="5" height="3" fill="#fff" />
<rect x="98" y="466" width="5" height="3" fill="#fff" />
<rect x="113" y="466" width="5" height="3" fill="#fff" />
<rect x="98" y="472" width="5" height="3" fill="#fff" />
<rect x="113" y="472" width="5" height="3" fill="#fff" />
<rect x="98" y="478" width="5" height="3" fill="#fff" />
<rect x="113" y="478" width="5" height="3" fill="#fff" />
<rect x="98" y="484" width="5" height="3" fill="#fff" />
<rect x="113" y="484" width="5" height="3" fill="#fff" />
<rect x="98" y="490" width="5" height="3" fill="#fff" />
<rect x="113" y="490" width="5" height="3" fill="#fff" />
<rect x="105" y="415" width="5" height="33" fill="#fff" />
<rect x="105" y="453" width="5" height="34" fill="#fff" />
<path d="M106,494.0 L107.5,492.0 L109,494.0 Z" fill="#fff" stroke="none" stroke-width="0" />
<rect x="131" y="410.5" width="24" height="83.5" fill="#000" />
<rect x="133" y="414" width="5" height="3" fill="#fff" />
<rect x="148" y="414" width="5" height="3" fill="#fff" />
<rect x="133" y="419" width="5" height="3" fill="#fff" />
<rect x="148" y="419" width="5" height="3" fill="#fff" />
<rect x="133" y="425" width="5" height="3" fill="#fff" />
<rect x="148" y="425" width="5" height="3" fill="#fff" />
<rect x="133" y="431" width="5" height="3" fill="#fff" />
<rect x="148" y="431" width="5" height="3" fill="#fff" />
<rect x="133" y="437" width="5" height="3" fill="#fff" />
<rect x="148" y="437" width="5" height="3" fill="#fff" />
<rect x="133" y="443" width="5" height="3" fill="#fff" />
<rect x="148" y="443" width="5" height="3" fill="#fff" />
<rect x="133" y="449" width="5" height="3" fill="#fff" />
<rect x="148" y="449" width="5" height="3" fill="#fff" />
<rect x="133" y="454" width="5" height="3" fill="#fff" />
<rect x="148" y="454" width="5" height="3" fill="#fff" />
<rect x="133" y="460" width="5" height="3" fill="#fff" />
<rect x="148" y="460" width="5" height="3" fill="#fff" />
<rect x="133" y="466" width="5" height="3" fill="#fff" />
<rect x="148" y="466" width="5" height="3" fill="#fff" />
<rect x="133" y="472" width="5" height="3" fill="#fff" />
<rect x="148" y="472" width="5" height="3" fill="#fff" />
<rect x="133" y="478" width="5" height="3" fill="#fff" />
<rect x="148" y="478" width="5" height="3" fill="#fff" />
<rect x="133" y="484" width="5" height="3" fill="#fff" />
<rect x="148" y="484" width="5" height="3" fill="#fff" />
<rect x="133" y="490" width="5" height="3" fill="#fff" />
<rect x="148" y="490" width="5" height="3" fill="#fff" />
<rect x="140" y="415" width="5" height="33" fill="#fff" />
<rect x="140" y="453" width="5" height="34" fill="#fff" />
<path d="M141,494.0 L142.5,492.0 L144,494.0 Z" fill="#fff" stroke="none" stroke-width="0" />
<rect x="157" y="410.5" width="24" height="83.5" fill="#000" />
<rect x="159" y="414" width="5" height="3" fill="#fff" />
<rect x="174" y="414" width="5" height="3" fill="#fff" />
<rect x="159" y="419" width="5" height="3" fill="#fff" />
<rect x="174" y="419" width="5" height="3" fill="#fff" />
<rect x="159" y="425" width="5" height="3" fill="#fff" />
<rect x="174" y="425" width="5" height="3" fill="#fff" />
<rect x="159" y="431" width="5" height="3" fill="#fff" />
<rect x="174" y="431" width="5" height="3" fill="#fff" />
<rect x="159" y="437" width="5" height="3" fill="#fff" />
<rect x="174" y="437" width="5" height="3" fill="#fff" />
<rect x="159" y="443" width="5" height="3" fill="#fff" />
<rect x="174" y="443" width="5" height="3" fill="#fff" />
<rect x="159" y="449" width="5" height="3" fill="#fff" />
<rect x="174" y="449" width="5" height="3" fill="#fff" />
<rect x="159" y="454" width="5" height="3" fill="#fff" />
<rect x="174" y="454" width="5" height="3" fill="#fff" />
<rect x="159" y="460" width="5" height="3" fill="#fff" />
<rect x="174" y="460" width="5" height="3" fill="#fff" />
<rect x="159" y="466" width="5" height="3" fill="#fff" />
<rect x="174" y="466" width="5" height="3" fill="#fff" />
<rect x="159" y="472" width="5" height="3" fill="#fff" />
<rect x="174" y="472" width="5" height="3" fill="#fff" />
<rect x="159" y="478" width="5" height="3" fill="#fff" />
<rect x="174" y="478" width="5" height="3" fill="#fff" />
<rect x="159" y="484" width="5" height="3" fill="#fff" />
<rect x="174" y="484" width="5" height="3" fill="#fff" />
<rect x="159" y="490" width="5" height="3" fill="#fff" />
<rect x="174" y="490" width="5" height="3" fill="#fff" />
<rect x="166" y="415" width="5" height="33" fill="#fff" />
<rect x="166" y="453" width="5" height="34" fill="#fff" />
<path d="M167,494.0 L168.5,492.0 L170,494.0 Z" fill="#fff" stroke="none" stroke-width="0" />
<rect x="184" y="410.5" width="24" height="83.5" fill="#000" />
<rect x="186" y="414" width="5" height="3" fill="#fff" />
<rect x="201" y="414" width="5" height="3" fill="#fff" />
<rect x="186" y="419" width="5" height="3" fill="#fff" />
<rect x="201" y="419" width="5" height="3" fill="#fff" />
<rect x="186" y="425" width="5" height="3" fill="#fff" />
<rect x="201" y="425" width="5" height="3" fill="#fff" />
<rect x="186" y="431" width="5" height="3" fill="#fff" />
<rect x="201" y="431" width="5" height="3" fill="#fff" />
<rect x="186" y="437" width="5" height="3" fill="#fff" />
<rect x="201" y="437" width="5" height="3" fill="#fff" />
<rect x="186" y="443" width="5" height="3" fill="#fff" />
<rect x="201" y="443" width="5" height="3" fill="#fff" />
<rect x="186" y="449" width="5" height="3" fill="#fff" />
<rect x="201" y="449" width="5" height="3" fill="#fff" />
<rect x="186" y="454" width="5" height="3" fill="#fff" />
<rect x="201" y="454" width="5" height="3" fill="#fff" />
<rect x="186" y="460" width="5" height="3" fill="#fff" />
<rect x="201" y="460" width="5" height="3" fill="#fff" />
<rect x="186" y="466" width="5" height="3" fill="#fff" />
<rect x="201" y="466" width="5" height="3" fill="#fff" />
<rect x="186" y="472" width="5" height="3" fill="#fff" />
<rect x="201" y="472" width="5" height="3" fill="#fff" />
<rect x="186" y="478" width="5" height="3" fill="#fff" />
<rect x="201" y="478" width="5" height="3" fill="#fff" />
<rect x="186" y="484" width="5" height="3" fill="#fff" />
<rect x="201" y="484" width="5" height="3" fill="#fff" />
<rect x="186" y="490" width="5" height="3" fill="#fff" />
<rect x="201" y="490" width="5" height="3" fill="#fff" />
<rect x="193" y="415" width="5" height="33" fill="#fff" />
<rect x="193" y="453" width="5" height="34" fill="#fff" />
<path d="M194,494.0 L195.5,492.0 L197,494.0 Z" fill="#fff" stroke="none" stroke-width="0" />
<rect x="210" y="410.5" width="24" height="83.5" fill="#000" />
<rect x="212" y="414" width="5" height="3" fill="#fff" />
<rect x="227" y="414" width="5" height="3" fill="#fff" />
<rect x="212" y="419" width="5" height="3" fill="#fff" />
<rect x="227" y="419" width="5" height="3" fill="#fff" />
<rect x="212" y="425" width="5" height="3" fill="#fff" />
<rect x="227" y="425" width="5" height="3" fill="#fff" />
<rect x="212" y="431" width="5" height="3" fill="#fff" />
<rect x="227" y="431" width="5" height="3" fill="#fff" />
<rect x="212" y="437" width="5" height="3" fill="#fff" />
<rect x="227" y="437" width="5" height="3" fill="#fff" />
<rect x="212" y="443" width="5" height="3" fill="#fff" />
<rect x="227" y="443" width="5" height="3" fill="#fff" />
<rect x="212" y="449" width="5" height="3" fill="#fff" />
<rect x="227" y="449" width="5" height="3" fill="#fff" />
<rect x="212" y="454" width="5" height="3" fill="#fff" />
<rect x="227" y="454" width="5" height="3" fill="#fff" />
<rect x="212" y="460" width="5" height="3" fill="#fff" />
<rect x="227" y="460" width="5" height="3" fill="#fff" />
<rect x="212" y="466" width="5" height="3" fill="#fff" />
<rect x="227" y="466" width="5" height="3" fill="#fff" />
<rect x="212" y="472" width="5" height="3" fill="#fff" />
<rect x="227" y="472" width="5" height="3" fill="#fff" />
<rect x="212" y="478" width="5" height="3" fill="#fff" />
<rect x="227" y="478" width="5" height="3" fill="#fff" />
<rect x="212" y="484" width="5" height="3" fill="#fff" />
<rect x="227" y="484" width="5" height="3" fill="#fff" />
<rect x="212" y="490" width="5" height="3" fill="#fff" />
<rect x="227" y="490" width="5" height="3" fill="#fff" />
<rect x="219" y="415" width="5" height="33" fill="#fff" />
<rect x="219" y="453" width="5" height="34" fill="#fff" />
<path d="M220,494.0 L221.5,492.0 L223,494.0 Z" fill="#fff" stroke="none" stroke-width="0" />
<rect x="242" y="321" width="24" height="83.5" fill="#000" />
<rect x="244" y="324" width="5" height="3" fill="#fff" />
<rect x="259" y="324" width="5" height="3" fill="#fff" />
<rect x="244" y="330" width="5" height="3" fill="#fff" />
<rect x="259" y="330" width="5" height="3" fill="#fff" />
<rect x="244" y="336" width="5" height="3" fill="#fff" />
<rect x="259" y="336" width="5" height="3" fill="#fff" />
<rect x="244" y="342" width="5" height="3" fill="#fff" />
<rect x="259" y="342" width="5" height="3" fill="#fff" />
<rect x="244" y="347" width="5" height="3" fill="#fff" />
<rect x="259" y="347" width="5" height="3" fill="#fff" />
<rect x="244" y="353" width="5" height="3" fill="#fff" />
<rect x="259" y="353" width="5" height="3" fill="#fff" />
<rect x="244" y="359" width="5" height="3" fill="#fff" />
<rect x="259" y="359" width="5" height="3" fill="#fff" />
<rect x="244" y="365" width="5" height="3" fill="#fff" />
<rect x="259" y="365" width="5" height="3" fill="#fff" />
<rect x="244" y="371" width="5" height="3" fill="#fff" />
<rect x="259" y="371" width="5" height="3" fill="#fff" />
<rect x="244" y="377" width="5" height="3" fill="#fff" />
<rect x="259" y="377" width="5" height="3" fill="#fff" />
<rect x="244" y="382" width="5" height="3" fill="#fff" />
<rect x="259" y="382" width="5" height="3" fill="#fff" />
<rect x="244" y="388" width="5" height="3" fill="#fff" />
<rect x="259" y="388" width="5" height="3" fill="#fff" />
<rect x="244" y="394" width="5" height="3" fill="#fff" />
<rect x="259" y="394" width="5" height="3" fill="#fff" />
<rect x="244" y="400" width="5" height="3" fill="#fff" />
<rect x="259" y="400" width="5" height="3" fill="#fff" />
<rect x="251" y="326" width="5" height="33" fill="#fff" />
<rect x="251" y="364" width="5" height="34" fill="#fff" />
<path d="M252,404.5 L253.5,402.5 L255,404.5 Z" fill="#fff" stroke="none" stroke-width="0" />
<rect x="264" y="426" width="65" height="26" fill="#000" />
<rect x="266" y="428" width="3" height="5" fill="#fff" />
<rect x="266" y="444" width="3" height="5" fill="#fff" />
<rect x="272" y="428" width="3" height="5" fill="#fff" />
<rect x="272" y="444" width="3" height="5" fill="#fff" />
<rect x="278" y="428" width="3" height="5" fill="#fff" />
<rect x="278" y="444" width="3" height="5" fill="#fff" />
<rect x="283" y="428" width="3" height="2" fill="#fff" />
<rect x="283" y="448" width="3" height="1.5" fill="#fff" />
<rect x="289" y="428" width="3" height="2" fill="#fff" />
<rect x="289" y="448" width="3" height="1.5" fill="#fff" />
<rect x="295" y="428" width="3" height="2" fill="#fff" />
<rect x="295" y="448" width="3" height="1.5" fill="#fff" />
<rect x="301" y="428" width="3" height="2" fill="#fff" />
<rect x="301" y="448" width="3" height="1.5" fill="#fff" />
<rect x="307" y="428" width="3" height="2" fill="#fff" />
<rect x="307" y="448" width="3" height="1.5" fill="#fff" />
<rect x="312" y="428" width="3" height="5" fill="#fff" />
<rect x="312" y="444" width="3" height="5" fill="#fff" />
<rect x="318" y="428" width="3" height="5" fill="#fff" />
<rect x="318" y="444" width="3" height="5" fill="#fff" />
<rect x="324" y="428" width="3" height="5" fill="#fff" />
<rect x="324" y="444" width="3" height="5" fill="#fff" />
<rect x="268" y="436" width="12" height="5" fill="#fff" />
<rect x="313" y="436" width="9" height="5" fill="#fff" />
<path d="M329.5,435.5 L326,439 L329.5,442.5 Z" fill="#fff" stroke="none" stroke-width="0" />
<rect x="462.5" y="352.5" width="225" height="18" fill="#fff" stroke="#000" stroke-width="1"/>
<rect x="461.5" y="360.5" width="7" height="6.5" fill="#fff" stroke="#000"/>
<line x1="462" y1="359.5" x2="469" y2="359.5" stroke="#000"/>
<line x1="468.5" y1="352" x2="468.5" y2="360" stroke="#000"/>
<rect x="469.6" y="352" width="0.9" height="17" fill="#000" style="shape-rendering:auto"/>
<rect x="470.8" y="352" width="1.6" height="17" fill="#000" style="shape-rendering:auto"/>
<path d="M473.8,352.5 V366.3 H481.2 V358.2 H479.6 V352.5" fill="#fff" stroke="#000" stroke-width="1.5" />
<path d="M476,354.5 V358.3 H481" fill="none" stroke="#000" stroke-width="1.5" />
<rect x="680.5" y="360.5" width="7" height="6.5" fill="#fff" stroke="#000"/>
<line x1="680" y1="359.5" x2="688" y2="359.5" stroke="#000"/>
<line x1="680" y1="367.5" x2="688" y2="367.5" stroke="#000"/>
<line x1="680.5" y1="352" x2="680.5" y2="368" stroke="#000"/>
<rect x="677.6" y="352" width="1.6" height="17" fill="#000" style="shape-rendering:auto"/>
<path d="M676.2,352.5 V366.3 H667.2 V358.2 H670 V352.5" fill="#fff" stroke="#000" stroke-width="1.5" />
<path d="M674,354.5 V358.3 H669" fill="none" stroke="#000" stroke-width="1.5" />
<rect x="486" y="354" width="177" height="14" fill="#000" />
<rect x="486" y="354" width="1.5" height="6.5" fill="#fff" />
<rect x="661.5" y="354" width="1.5" height="6.5" fill="#fff" />
<rect x="487" y="361" width="1" height="6" fill="#fff" />
<rect x="490" y="360.7" width="4.25" height="6.3" fill="#fff" style="shape-rendering:auto"/>
<rect x="490.9" y="354.9" width="1.25" height="4.2" fill="#fff" style="shape-rendering:auto"/>
<rect x="496" y="360.7" width="4.25" height="6.3" fill="#fff" style="shape-rendering:auto"/>
<rect x="496.9" y="354.9" width="1.25" height="4.2" fill="#fff" style="shape-rendering:auto"/>
<rect x="502" y="360.7" width="4.25" height="6.3" fill="#fff" style="shape-rendering:auto"/>
<rect x="502.9" y="354.9" width="1.25" height="4.2" fill="#fff" style="shape-rendering:auto"/>
<rect x="508" y="360.7" width="4.25" height="6.3" fill="#fff" style="shape-rendering:auto"/>
<rect x="508.9" y="354.9" width="1.25" height="4.2" fill="#fff" style="shape-rendering:auto"/>
<rect x="514" y="360.7" width="4.25" height="6.3" fill="#fff" style="shape-rendering:auto"/>
<rect x="514.9" y="354.9" width="1.25" height="4.2" fill="#fff" style="shape-rendering:auto"/>
<rect x="520" y="360.7" width="4.25" height="6.3" fill="#fff" style="shape-rendering:auto"/>
<rect x="520.9" y="354.9" width="1.25" height="4.2" fill="#fff" style="shape-rendering:auto"/>
<rect x="526" y="360.7" width="4.25" height="6.3" fill="#fff" style="shape-rendering:auto"/>
<rect x="526.9" y="354.9" width="1.25" height="4.2" fill="#fff" style="shape-rendering:auto"/>
<rect x="532" y="360.7" width="4.25" height="6.3" fill="#fff" style="shape-rendering:auto"/>
<rect x="532.9" y="354.9" width="1.25" height="4.2" fill="#fff" style="shape-rendering:auto"/>
<rect x="538" y="360.7" width="4.25" height="6.3" fill="#fff" style="shape-rendering:auto"/>
<rect x="538.9" y="354.9" width="1.25" height="4.2" fill="#fff" style="shape-rendering:auto"/>
<rect x="544" y="360.7" width="4.25" height="6.3" fill="#fff" style="shape-rendering:auto"/>
<rect x="544.9" y="354.9" width="1.25" height="4.2" fill="#fff" style="shape-rendering:auto"/>
<rect x="550" y="360.7" width="4.25" height="6.3" fill="#fff" style="shape-rendering:auto"/>
<rect x="550.9" y="354.9" width="1.25" height="4.2" fill="#fff" style="shape-rendering:auto"/>
<rect x="556" y="360.7" width="4.25" height="6.3" fill="#fff" style="shape-rendering:auto"/>
<rect x="556.9" y="354.9" width="1.25" height="4.2" fill="#fff" style="shape-rendering:auto"/>
<rect x="562" y="360.7" width="4.25" height="6.3" fill="#fff" style="shape-rendering:auto"/>
<rect x="562.9" y="354.9" width="1.25" height="4.2" fill="#fff" style="shape-rendering:auto"/>
<rect x="568" y="360.7" width="4.25" height="6.3" fill="#fff" style="shape-rendering:auto"/>
<rect x="568.9" y="354.9" width="1.25" height="4.2" fill="#fff" style="shape-rendering:auto"/>
<rect x="574" y="360.7" width="4.25" height="6.3" fill="#fff" style="shape-rendering:auto"/>
<rect x="574.9" y="354.9" width="1.25" height="4.2" fill="#fff" style="shape-rendering:auto"/>
<rect x="580" y="360.7" width="4.25" height="6.3" fill="#fff" style="shape-rendering:auto"/>
<rect x="580.9" y="354.9" width="1.25" height="4.2" fill="#fff" style="shape-rendering:auto"/>
<rect x="586" y="360.7" width="4.25" height="6.3" fill="#fff" style="shape-rendering:auto"/>
<rect x="586.9" y="354.9" width="1.25" height="4.2" fill="#fff" style="shape-rendering:auto"/>
<rect x="592" y="360.7" width="4.25" height="6.3" fill="#fff" style="shape-rendering:auto"/>
<rect x="592.9" y="354.9" width="1.25" height="4.2" fill="#fff" style="shape-rendering:auto"/>
<rect x="598" y="360.7" width="4.25" height="6.3" fill="#fff" style="shape-rendering:auto"/>
<rect x="598.9" y="354.9" width="1.25" height="4.2" fill="#fff" style="shape-rendering:auto"/>
<rect x="604" y="360.7" width="4.25" height="6.3" fill="#fff" style="shape-rendering:auto"/>
<rect x="604.9" y="354.9" width="1.25" height="4.2" fill="#fff" style="shape-rendering:auto"/>
<rect x="610" y="360.7" width="4.25" height="6.3" fill="#fff" style="shape-rendering:auto"/>
<rect x="610.9" y="354.9" width="1.25" height="4.2" fill="#fff" style="shape-rendering:auto"/>
<rect x="616" y="360.7" width="4.25" height="6.3" fill="#fff" style="shape-rendering:auto"/>
<rect x="616.9" y="354.9" width="1.25" height="4.2" fill="#fff" style="shape-rendering:auto"/>
<rect x="622" y="360.7" width="4.25" height="6.3" fill="#fff" style="shape-rendering:auto"/>
<rect x="622.9" y="354.9" width="1.25" height="4.2" fill="#fff" style="shape-rendering:auto"/>
<rect x="628" y="360.7" width="4.25" height="6.3" fill="#fff" style="shape-rendering:auto"/>
<rect x="628.9" y="354.9" width="1.25" height="4.2" fill="#fff" style="shape-rendering:auto"/>
<rect x="634" y="360.7" width="4.25" height="6.3" fill="#fff" style="shape-rendering:auto"/>
<rect x="634.9" y="354.9" width="1.25" height="4.2" fill="#fff" style="shape-rendering:auto"/>
<rect x="640" y="360.7" width="4.25" height="6.3" fill="#fff" style="shape-rendering:auto"/>
<rect x="640.9" y="354.9" width="1.25" height="4.2" fill="#fff" style="shape-rendering:auto"/>
<rect x="646" y="360.7" width="4.25" height="6.3" fill="#fff" style="shape-rendering:auto"/>
<rect x="646.9" y="354.9" width="1.25" height="4.2" fill="#fff" style="shape-rendering:auto"/>
<rect x="652" y="360.7" width="4.25" height="6.3" fill="#fff" style="shape-rendering:auto"/>
<rect x="652.9" y="354.9" width="1.25" height="4.2" fill="#fff" style="shape-rendering:auto"/>
<rect x="658" y="360.7" width="4.25" height="6.3" fill="#fff" style="shape-rendering:auto"/>
<rect x="658.9" y="354.9" width="1.25" height="4.2" fill="#fff" style="shape-rendering:auto"/>
<rect x="462.5" y="372.5" width="225" height="18" fill="#fff" stroke="#000" stroke-width="1"/>
<rect x="461.5" y="380.5" width="7" height="6.5" fill="#fff" stroke="#000"/>
<line x1="462" y1="379.5" x2="469" y2="379.5" stroke="#000"/>
<line x1="468.5" y1="372" x2="468.5" y2="380" stroke="#000"/>
<rect x="469.6" y="372" width="0.9" height="17" fill="#000" style="shape-rendering:auto"/>
<rect x="470.8" y="372" width="1.6" height="17" fill="#000" style="shape-rendering:auto"/>
<path d="M473.8,372.5 V386.3 H481.2 V378.2 H479.6 V372.5" fill="#fff" stroke="#000" stroke-width="1.5" />
<path d="M476,374.5 V378.3 H481" fill="none" stroke="#000" stroke-width="1.5" />
<rect x="680.5" y="380.5" width="7" height="6.5" fill="#fff" stroke="#000"/>
<line x1="680" y1="379.5" x2="688" y2="379.5" stroke="#000"/>
<line x1="680" y1="387.5" x2="688" y2="387.5" stroke="#000"/>
<line x1="680.5" y1="372" x2="680.5" y2="388" stroke="#000"/>
<rect x="677.6" y="372" width="1.6" height="17" fill="#000" style="shape-rendering:auto"/>
<path d="M676.2,372.5 V386.3 H667.2 V378.2 H670 V372.5" fill="#fff" stroke="#000" stroke-width="1.5" />
<path d="M674,374.5 V378.3 H669" fill="none" stroke="#000" stroke-width="1.5" />
<rect x="486" y="374" width="177" height="14" fill="#000" />
<rect x="486" y="374" width="1.5" height="6.5" fill="#fff" />
<rect x="661.5" y="374" width="1.5" height="6.5" fill="#fff" />
<rect x="487" y="381" width="1" height="6" fill="#fff" />
<rect x="490" y="380.7" width="4.25" height="6.3" fill="#fff" style="shape-rendering:auto"/>
<rect x="490.9" y="374.9" width="1.25" height="4.2" fill="#fff" style="shape-rendering:auto"/>
<rect x="496" y="380.7" width="4.25" height="6.3" fill="#fff" style="shape-rendering:auto"/>
<rect x="496.9" y="374.9" width="1.25" height="4.2" fill="#fff" style="shape-rendering:auto"/>
<rect x="502" y="380.7" width="4.25" height="6.3" fill="#fff" style="shape-rendering:auto"/>
<rect x="502.9" y="374.9" width="1.25" height="4.2" fill="#fff" style="shape-rendering:auto"/>
<rect x="508" y="380.7" width="4.25" height="6.3" fill="#fff" style="shape-rendering:auto"/>
<rect x="508.9" y="374.9" width="1.25" height="4.2" fill="#fff" style="shape-rendering:auto"/>
<rect x="514" y="380.7" width="4.25" height="6.3" fill="#fff" style="shape-rendering:auto"/>
<rect x="514.9" y="374.9" width="1.25" height="4.2" fill="#fff" style="shape-rendering:auto"/>
<rect x="520" y="380.7" width="4.25" height="6.3" fill="#fff" style="shape-rendering:auto"/>
<rect x="520.9" y="374.9" width="1.25" height="4.2" fill="#fff" style="shape-rendering:auto"/>
<rect x="526" y="380.7" width="4.25" height="6.3" fill="#fff" style="shape-rendering:auto"/>
<rect x="526.9" y="374.9" width="1.25" height="4.2" fill="#fff" style="shape-rendering:auto"/>
<rect x="532" y="380.7" width="4.25" height="6.3" fill="#fff" style="shape-rendering:auto"/>
<rect x="532.9" y="374.9" width="1.25" height="4.2" fill="#fff" style="shape-rendering:auto"/>
<rect x="538" y="380.7" width="4.25" height="6.3" fill="#fff" style="shape-rendering:auto"/>
<rect x="538.9" y="374.9" width="1.25" height="4.2" fill="#fff" style="shape-rendering:auto"/>
<rect x="544" y="380.7" width="4.25" height="6.3" fill="#fff" style="shape-rendering:auto"/>
<rect x="544.9" y="374.9" width="1.25" height="4.2" fill="#fff" style="shape-rendering:auto"/>
<rect x="550" y="380.7" width="4.25" height="6.3" fill="#fff" style="shape-rendering:auto"/>
<rect x="550.9" y="374.9" width="1.25" height="4.2" fill="#fff" style="shape-rendering:auto"/>
<rect x="556" y="380.7" width="4.25" height="6.3" fill="#fff" style="shape-rendering:auto"/>
<rect x="556.9" y="374.9" width="1.25" height="4.2" fill="#fff" style="shape-rendering:auto"/>
<rect x="562" y="380.7" width="4.25" height="6.3" fill="#fff" style="shape-rendering:auto"/>
<rect x="562.9" y="374.9" width="1.25" height="4.2" fill="#fff" style="shape-rendering:auto"/>
<rect x="568" y="380.7" width="4.25" height="6.3" fill="#fff" style="shape-rendering:auto"/>
<rect x="568.9" y="374.9" width="1.25" height="4.2" fill="#fff" style="shape-rendering:auto"/>
<rect x="574" y="380.7" width="4.25" height="6.3" fill="#fff" style="shape-rendering:auto"/>
<rect x="574.9" y="374.9" width="1.25" height="4.2" fill="#fff" style="shape-rendering:auto"/>
<rect x="580" y="380.7" width="4.25" height="6.3" fill="#fff" style="shape-rendering:auto"/>
<rect x="580.9" y="374.9" width="1.25" height="4.2" fill="#fff" style="shape-rendering:auto"/>
<rect x="586" y="380.7" width="4.25" height="6.3" fill="#fff" style="shape-rendering:auto"/>
<rect x="586.9" y="374.9" width="1.25" height="4.2" fill="#fff" style="shape-rendering:auto"/>
<rect x="592" y="380.7" width="4.25" height="6.3" fill="#fff" style="shape-rendering:auto"/>
<rect x="592.9" y="374.9" width="1.25" height="4.2" fill="#fff" style="shape-rendering:auto"/>
<rect x="598" y="380.7" width="4.25" height="6.3" fill="#fff" style="shape-rendering:auto"/>
<rect x="598.9" y="374.9" width="1.25" height="4.2" fill="#fff" style="shape-rendering:auto"/>
<rect x="604" y="380.7" width="4.25" height="6.3" fill="#fff" style="shape-rendering:auto"/>
<rect x="604.9" y="374.9" width="1.25" height="4.2" fill="#fff" style="shape-rendering:auto"/>
<rect x="610" y="380.7" width="4.25" height="6.3" fill="#fff" style="shape-rendering:auto"/>
<rect x="610.9" y="374.9" width="1.25" height="4.2" fill="#fff" style="shape-rendering:auto"/>
<rect x="616" y="380.7" width="4.25" height="6.3" fill="#fff" style="shape-rendering:auto"/>
<rect x="616.9" y="374.9" width="1.25" height="4.2" fill="#fff" style="shape-rendering:auto"/>
<rect x="622" y="380.7" width="4.25" height="6.3" fill="#fff" style="shape-rendering:auto"/>
<rect x="622.9" y="374.9" width="1.25" height="4.2" fill="#fff" style="shape-rendering:auto"/>
<rect x="628" y="380.7" width="4.25" height="6.3" fill="#fff" style="shape-rendering:auto"/>
<rect x="628.9" y="374.9" width="1.25" height="4.2" fill="#fff" style="shape-rendering:auto"/>
<rect x="634" y="380.7" width="4.25" height="6.3" fill="#fff" style="shape-rendering:auto"/>
<rect x="634.9" y="374.9" width="1.25" height="4.2" fill="#fff" style="shape-rendering:auto"/>
<rect x="640" y="380.7" width="4.25" height="6.3" fill="#fff" style="shape-rendering:auto"/>
<rect x="640.9" y="374.9" width="1.25" height="4.2" fill="#fff" style="shape-rendering:auto"/>
<rect x="646" y="380.7" width="4.25" height="6.3" fill="#fff" style="shape-rendering:auto"/>
<rect x="646.9" y="374.9" width="1.25" height="4.2" fill="#fff" style="shape-rendering:auto"/>
<rect x="652" y="380.7" width="4.25" height="6.3" fill="#fff" style="shape-rendering:auto"/>
<rect x="652.9" y="374.9" width="1.25" height="4.2" fill="#fff" style="shape-rendering:auto"/>
<rect x="658" y="380.7" width="4.25" height="6.3" fill="#fff" style="shape-rendering:auto"/>
<rect x="658.9" y="374.9" width="1.25" height="4.2" fill="#fff" style="shape-rendering:auto"/>
<rect x="462.5" y="392.5" width="225" height="18" fill="#fff" stroke="#000" stroke-width="1"/>
<rect x="461.5" y="400.5" width="7" height="6.5" fill="#fff" stroke="#000"/>
<line x1="462" y1="399.5" x2="469" y2="399.5" stroke="#000"/>
<line x1="468.5" y1="392" x2="468.5" y2="400" stroke="#000"/>
<rect x="469.6" y="392" width="0.9" height="17" fill="#000" style="shape-rendering:auto"/>
<rect x="470.8" y="392" width="1.6" height="17" fill="#000" style="shape-rendering:auto"/>
<path d="M473.8,392.5 V406.3 H481.2 V398.2 H479.6 V392.5" fill="#fff" stroke="#000" stroke-width="1.5" />
<path d="M476,394.5 V398.3 H481" fill="none" stroke="#000" stroke-width="1.5" />
<rect x="680.5" y="400.5" width="7" height="6.5" fill="#fff" stroke="#000"/>
<line x1="680" y1="399.5" x2="688" y2="399.5" stroke="#000"/>
<line x1="680" y1="407.5" x2="688" y2="407.5" stroke="#000"/>
<line x1="680.5" y1="392" x2="680.5" y2="408" stroke="#000"/>
<rect x="677.6" y="392" width="1.6" height="17" fill="#000" style="shape-rendering:auto"/>
<path d="M676.2,392.5 V406.3 H667.2 V398.2 H670 V392.5" fill="#fff" stroke="#000" stroke-width="1.5" />
<path d="M674,394.5 V398.3 H669" fill="none" stroke="#000" stroke-width="1.5" />
<rect x="486" y="394" width="177" height="14" fill="#000" />
<rect x="486" y="394" width="1.5" height="6.5" fill="#fff" />
<rect x="661.5" y="394" width="1.5" height="6.5" fill="#fff" />
<rect x="487" y="401" width="1" height="6" fill="#fff" />
<rect x="490" y="400.7" width="4.25" height="6.3" fill="#fff" style="shape-rendering:auto"/>
<rect x="490.9" y="394.9" width="1.25" height="4.2" fill="#fff" style="shape-rendering:auto"/>
<rect x="496" y="400.7" width="4.25" height="6.3" fill="#fff" style="shape-rendering:auto"/>
<rect x="496.9" y="394.9" width="1.25" height="4.2" fill="#fff" style="shape-rendering:auto"/>
<rect x="502" y="400.7" width="4.25" height="6.3" fill="#fff" style="shape-rendering:auto"/>
<rect x="502.9" y="394.9" width="1.25" height="4.2" fill="#fff" style="shape-rendering:auto"/>
<rect x="508" y="400.7" width="4.25" height="6.3" fill="#fff" style="shape-rendering:auto"/>
<rect x="508.9" y="394.9" width="1.25" height="4.2" fill="#fff" style="shape-rendering:auto"/>
<rect x="514" y="400.7" width="4.25" height="6.3" fill="#fff" style="shape-rendering:auto"/>
<rect x="514.9" y="394.9" width="1.25" height="4.2" fill="#fff" style="shape-rendering:auto"/>
<rect x="520" y="400.7" width="4.25" height="6.3" fill="#fff" style="shape-rendering:auto"/>
<rect x="520.9" y="394.9" width="1.25" height="4.2" fill="#fff" style="shape-rendering:auto"/>
<rect x="526" y="400.7" width="4.25" height="6.3" fill="#fff" style="shape-rendering:auto"/>
<rect x="526.9" y="394.9" width="1.25" height="4.2" fill="#fff" style="shape-rendering:auto"/>
<rect x="532" y="400.7" width="4.25" height="6.3" fill="#fff" style="shape-rendering:auto"/>
<rect x="532.9" y="394.9" width="1.25" height="4.2" fill="#fff" style="shape-rendering:auto"/>
<rect x="538" y="400.7" width="4.25" height="6.3" fill="#fff" style="shape-rendering:auto"/>
<rect x="538.9" y="394.9" width="1.25" height="4.2" fill="#fff" style="shape-rendering:auto"/>
<rect x="544" y="400.7" width="4.25" height="6.3" fill="#fff" style="shape-rendering:auto"/>
<rect x="544.9" y="394.9" width="1.25" height="4.2" fill="#fff" style="shape-rendering:auto"/>
<rect x="550" y="400.7" width="4.25" height="6.3" fill="#fff" style="shape-rendering:auto"/>
<rect x="550.9" y="394.9" width="1.25" height="4.2" fill="#fff" style="shape-rendering:auto"/>
<rect x="556" y="400.7" width="4.25" height="6.3" fill="#fff" style="shape-rendering:auto"/>
<rect x="556.9" y="394.9" width="1.25" height="4.2" fill="#fff" style="shape-rendering:auto"/>
<rect x="562" y="400.7" width="4.25" height="6.3" fill="#fff" style="shape-rendering:auto"/>
<rect x="562.9" y="394.9" width="1.25" height="4.2" fill="#fff" style="shape-rendering:auto"/>
<rect x="568" y="400.7" width="4.25" height="6.3" fill="#fff" style="shape-rendering:auto"/>
<rect x="568.9" y="394.9" width="1.25" height="4.2" fill="#fff" style="shape-rendering:auto"/>
<rect x="574" y="400.7" width="4.25" height="6.3" fill="#fff" style="shape-rendering:auto"/>
<rect x="574.9" y="394.9" width="1.25" height="4.2" fill="#fff" style="shape-rendering:auto"/>
<rect x="580" y="400.7" width="4.25" height="6.3" fill="#fff" style="shape-rendering:auto"/>
<rect x="580.9" y="394.9" width="1.25" height="4.2" fill="#fff" style="shape-rendering:auto"/>
<rect x="586" y="400.7" width="4.25" height="6.3" fill="#fff" style="shape-rendering:auto"/>
<rect x="586.9" y="394.9" width="1.25" height="4.2" fill="#fff" style="shape-rendering:auto"/>
<rect x="592" y="400.7" width="4.25" height="6.3" fill="#fff" style="shape-rendering:auto"/>
<rect x="592.9" y="394.9" width="1.25" height="4.2" fill="#fff" style="shape-rendering:auto"/>
<rect x="598" y="400.7" width="4.25" height="6.3" fill="#fff" style="shape-rendering:auto"/>
<rect x="598.9" y="394.9" width="1.25" height="4.2" fill="#fff" style="shape-rendering:auto"/>
<rect x="604" y="400.7" width="4.25" height="6.3" fill="#fff" style="shape-rendering:auto"/>
<rect x="604.9" y="394.9" width="1.25" height="4.2" fill="#fff" style="shape-rendering:auto"/>
<rect x="610" y="400.7" width="4.25" height="6.3" fill="#fff" style="shape-rendering:auto"/>
<rect x="610.9" y="394.9" width="1.25" height="4.2" fill="#fff" style="shape-rendering:auto"/>
<rect x="616" y="400.7" width="4.25" height="6.3" fill="#fff" style="shape-rendering:auto"/>
<rect x="616.9" y="394.9" width="1.25" height="4.2" fill="#fff" style="shape-rendering:auto"/>
<rect x="622" y="400.7" width="4.25" height="6.3" fill="#fff" style="shape-rendering:auto"/>
<rect x="622.9" y="394.9" width="1.25" height="4.2" fill="#fff" style="shape-rendering:auto"/>
<rect x="628" y="400.7" width="4.25" height="6.3" fill="#fff" style="shape-rendering:auto"/>
<rect x="628.9" y="394.9" width="1.25" height="4.2" fill="#fff" style="shape-rendering:auto"/>
<rect x="634" y="400.7" width="4.25" height="6.3" fill="#fff" style="shape-rendering:auto"/>
<rect x="634.9" y="394.9" width="1.25" height="4.2" fill="#fff" style="shape-rendering:auto"/>
<rect x="640" y="400.7" width="4.25" height="6.3" fill="#fff" style="shape-rendering:auto"/>
<rect x="640.9" y="394.9" width="1.25" height="4.2" fill="#fff" style="shape-rendering:auto"/>
<rect x="646" y="400.7" width="4.25" height="6.3" fill="#fff" style="shape-rendering:auto"/>
<rect x="646.9" y="394.9" width="1.25" height="4.2" fill="#fff" style="shape-rendering:auto"/>
<rect x="652" y="400.7" width="4.25" height="6.3" fill="#fff" style="shape-rendering:auto"/>
<rect x="652.9" y="394.9" width="1.25" height="4.2" fill="#fff" style="shape-rendering:auto"/>
<rect x="658" y="400.7" width="4.25" height="6.3" fill="#fff" style="shape-rendering:auto"/>
<rect x="658.9" y="394.9" width="1.25" height="4.2" fill="#fff" style="shape-rendering:auto"/>
<rect x="462.5" y="412.5" width="225" height="18" fill="#fff" stroke="#000" stroke-width="1"/>
<rect x="461.5" y="420.5" width="7" height="6.5" fill="#fff" stroke="#000"/>
<line x1="462" y1="419.5" x2="469" y2="419.5" stroke="#000"/>
<line x1="468.5" y1="412" x2="468.5" y2="420" stroke="#000"/>
<rect x="469.6" y="412" width="0.9" height="17" fill="#000" style="shape-rendering:auto"/>
<rect x="470.8" y="412" width="1.6" height="17" fill="#000" style="shape-rendering:auto"/>
<path d="M473.8,412.5 V426.3 H481.2 V418.2 H479.6 V412.5" fill="#fff" stroke="#000" stroke-width="1.5" />
<path d="M476,414.5 V418.3 H481" fill="none" stroke="#000" stroke-width="1.5" />
<rect x="680.5" y="420.5" width="7" height="6.5" fill="#fff" stroke="#000"/>
<line x1="680" y1="419.5" x2="688" y2="419.5" stroke="#000"/>
<line x1="680" y1="427.5" x2="688" y2="427.5" stroke="#000"/>
<line x1="680.5" y1="412" x2="680.5" y2="428" stroke="#000"/>
<rect x="677.6" y="412" width="1.6" height="17" fill="#000" style="shape-rendering:auto"/>
<path d="M676.2,412.5 V426.3 H667.2 V418.2 H670 V412.5" fill="#fff" stroke="#000" stroke-width="1.5" />
<path d="M674,414.5 V418.3 H669" fill="none" stroke="#000" stroke-width="1.5" />
<rect x="486" y="414" width="177" height="14" fill="#000" />
<rect x="486" y="414" width="1.5" height="6.5" fill="#fff" />
<rect x="661.5" y="414" width="1.5" height="6.5" fill="#fff" />
<rect x="487" y="421" width="1" height="6" fill="#fff" />
<rect x="490" y="420.7" width="4.25" height="6.3" fill="#fff" style="shape-rendering:auto"/>
<rect x="490.9" y="414.9" width="1.25" height="4.2" fill="#fff" style="shape-rendering:auto"/>
<rect x="496" y="420.7" width="4.25" height="6.3" fill="#fff" style="shape-rendering:auto"/>
<rect x="496.9" y="414.9" width="1.25" height="4.2" fill="#fff" style="shape-rendering:auto"/>
<rect x="502" y="420.7" width="4.25" height="6.3" fill="#fff" style="shape-rendering:auto"/>
<rect x="502.9" y="414.9" width="1.25" height="4.2" fill="#fff" style="shape-rendering:auto"/>
<rect x="508" y="420.7" width="4.25" height="6.3" fill="#fff" style="shape-rendering:auto"/>
<rect x="508.9" y="414.9" width="1.25" height="4.2" fill="#fff" style="shape-rendering:auto"/>
<rect x="514" y="420.7" width="4.25" height="6.3" fill="#fff" style="shape-rendering:auto"/>
<rect x="514.9" y="414.9" width="1.25" height="4.2" fill="#fff" style="shape-rendering:auto"/>
<rect x="520" y="420.7" width="4.25" height="6.3" fill="#fff" style="shape-rendering:auto"/>
<rect x="520.9" y="414.9" width="1.25" height="4.2" fill="#fff" style="shape-rendering:auto"/>
<rect x="526" y="420.7" width="4.25" height="6.3" fill="#fff" style="shape-rendering:auto"/>
<rect x="526.9" y="414.9" width="1.25" height="4.2" fill="#fff" style="shape-rendering:auto"/>
<rect x="532" y="420.7" width="4.25" height="6.3" fill="#fff" style="shape-rendering:auto"/>
<rect x="532.9" y="414.9" width="1.25" height="4.2" fill="#fff" style="shape-rendering:auto"/>
<rect x="538" y="420.7" width="4.25" height="6.3" fill="#fff" style="shape-rendering:auto"/>
<rect x="538.9" y="414.9" width="1.25" height="4.2" fill="#fff" style="shape-rendering:auto"/>
<rect x="544" y="420.7" width="4.25" height="6.3" fill="#fff" style="shape-rendering:auto"/>
<rect x="544.9" y="414.9" width="1.25" height="4.2" fill="#fff" style="shape-rendering:auto"/>
<rect x="550" y="420.7" width="4.25" height="6.3" fill="#fff" style="shape-rendering:auto"/>
<rect x="550.9" y="414.9" width="1.25" height="4.2" fill="#fff" style="shape-rendering:auto"/>
<rect x="556" y="420.7" width="4.25" height="6.3" fill="#fff" style="shape-rendering:auto"/>
<rect x="556.9" y="414.9" width="1.25" height="4.2" fill="#fff" style="shape-rendering:auto"/>
<rect x="562" y="420.7" width="4.25" height="6.3" fill="#fff" style="shape-rendering:auto"/>
<rect x="562.9" y="414.9" width="1.25" height="4.2" fill="#fff" style="shape-rendering:auto"/>
<rect x="568" y="420.7" width="4.25" height="6.3" fill="#fff" style="shape-rendering:auto"/>
<rect x="568.9" y="414.9" width="1.25" height="4.2" fill="#fff" style="shape-rendering:auto"/>
<rect x="574" y="420.7" width="4.25" height="6.3" fill="#fff" style="shape-rendering:auto"/>
<rect x="574.9" y="414.9" width="1.25" height="4.2" fill="#fff" style="shape-rendering:auto"/>
<rect x="580" y="420.7" width="4.25" height="6.3" fill="#fff" style="shape-rendering:auto"/>
<rect x="580.9" y="414.9" width="1.25" height="4.2" fill="#fff" style="shape-rendering:auto"/>
<rect x="586" y="420.7" width="4.25" height="6.3" fill="#fff" style="shape-rendering:auto"/>
<rect x="586.9" y="414.9" width="1.25" height="4.2" fill="#fff" style="shape-rendering:auto"/>
<rect x="592" y="420.7" width="4.25" height="6.3" fill="#fff" style="shape-rendering:auto"/>
<rect x="592.9" y="414.9" width="1.25" height="4.2" fill="#fff" style="shape-rendering:auto"/>
<rect x="598" y="420.7" width="4.25" height="6.3" fill="#fff" style="shape-rendering:auto"/>
<rect x="598.9" y="414.9" width="1.25" height="4.2" fill="#fff" style="shape-rendering:auto"/>
<rect x="604" y="420.7" width="4.25" height="6.3" fill="#fff" style="shape-rendering:auto"/>
<rect x="604.9" y="414.9" width="1.25" height="4.2" fill="#fff" style="shape-rendering:auto"/>
<rect x="610" y="420.7" width="4.25" height="6.3" fill="#fff" style="shape-rendering:auto"/>
<rect x="610.9" y="414.9" width="1.25" height="4.2" fill="#fff" style="shape-rendering:auto"/>
<rect x="616" y="420.7" width="4.25" height="6.3" fill="#fff" style="shape-rendering:auto"/>
<rect x="616.9" y="414.9" width="1.25" height="4.2" fill="#fff" style="shape-rendering:auto"/>
<rect x="622" y="420.7" width="4.25" height="6.3" fill="#fff" style="shape-rendering:auto"/>
<rect x="622.9" y="414.9" width="1.25" height="4.2" fill="#fff" style="shape-rendering:auto"/>
<rect x="628" y="420.7" width="4.25" height="6.3" fill="#fff" style="shape-rendering:auto"/>
<rect x="628.9" y="414.9" width="1.25" height="4.2" fill="#fff" style="shape-rendering:auto"/>
<rect x="634" y="420.7" width="4.25" height="6.3" fill="#fff" style="shape-rendering:auto"/>
<rect x="634.9" y="414.9" width="1.25" height="4.2" fill="#fff" style="shape-rendering:auto"/>
<rect x="640" y="420.7" width="4.25" height="6.3" fill="#fff" style="shape-rendering:auto"/>
<rect x="640.9" y="414.9" width="1.25" height="4.2" fill="#fff" style="shape-rendering:auto"/>
<rect x="646" y="420.7" width="4.25" height="6.3" fill="#fff" style="shape-rendering:auto"/>
<rect x="646.9" y="414.9" width="1.25" height="4.2" fill="#fff" style="shape-rendering:auto"/>
<rect x="652" y="420.7" width="4.25" height="6.3" fill="#fff" style="shape-rendering:auto"/>
<rect x="652.9" y="414.9" width="1.25" height="4.2" fill="#fff" style="shape-rendering:auto"/>
<rect x="658" y="420.7" width="4.25" height="6.3" fill="#fff" style="shape-rendering:auto"/>
<rect x="658.9" y="414.9" width="1.25" height="4.2" fill="#fff" style="shape-rendering:auto"/>
<rect x="462.5" y="440.5" width="225" height="18" fill="#fff" stroke="#000" stroke-width="1"/>
<rect x="461.5" y="448.5" width="7" height="6.5" fill="#fff" stroke="#000"/>
<line x1="462" y1="447.5" x2="469" y2="447.5" stroke="#000"/>
<line x1="468.5" y1="440" x2="468.5" y2="448" stroke="#000"/>
<rect x="469.6" y="440" width="0.9" height="17" fill="#000" style="shape-rendering:auto"/>
<rect x="470.8" y="440" width="1.6" height="17" fill="#000" style="shape-rendering:auto"/>
<path d="M473.8,440.5 V454.3 H481.2 V446.2 H479.6 V440.5" fill="#fff" stroke="#000" stroke-width="1.5" />
<path d="M476,442.5 V446.3 H481" fill="none" stroke="#000" stroke-width="1.5" />
<rect x="680.5" y="448.5" width="7" height="6.5" fill="#fff" stroke="#000"/>
<line x1="680" y1="447.5" x2="688" y2="447.5" stroke="#000"/>
<line x1="680" y1="455.5" x2="688" y2="455.5" stroke="#000"/>
<line x1="680.5" y1="440" x2="680.5" y2="456" stroke="#000"/>
<rect x="677.6" y="440" width="1.6" height="17" fill="#000" style="shape-rendering:auto"/>
<path d="M676.2,440.5 V454.3 H667.2 V446.2 H670 V440.5" fill="#fff" stroke="#000" stroke-width="1.5" />
<path d="M674,442.5 V446.3 H669" fill="none" stroke="#000" stroke-width="1.5" />
<rect x="486" y="442" width="177" height="14" fill="#000" />
<rect x="486" y="442" width="1.5" height="6.5" fill="#fff" />
<rect x="661.5" y="442" width="1.5" height="6.5" fill="#fff" />
<rect x="487" y="449" width="1" height="6" fill="#fff" />
<rect x="490" y="448.7" width="4.25" height="6.3" fill="#fff" style="shape-rendering:auto"/>
<rect x="490.9" y="442.9" width="1.25" height="4.2" fill="#fff" style="shape-rendering:auto"/>
<rect x="496" y="448.7" width="4.25" height="6.3" fill="#fff" style="shape-rendering:auto"/>
<rect x="496.9" y="442.9" width="1.25" height="4.2" fill="#fff" style="shape-rendering:auto"/>
<rect x="502" y="448.7" width="4.25" height="6.3" fill="#fff" style="shape-rendering:auto"/>
<rect x="502.9" y="442.9" width="1.25" height="4.2" fill="#fff" style="shape-rendering:auto"/>
<rect x="508" y="448.7" width="4.25" height="6.3" fill="#fff" style="shape-rendering:auto"/>
<rect x="508.9" y="442.9" width="1.25" height="4.2" fill="#fff" style="shape-rendering:auto"/>
<rect x="514" y="448.7" width="4.25" height="6.3" fill="#fff" style="shape-rendering:auto"/>
<rect x="514.9" y="442.9" width="1.25" height="4.2" fill="#fff" style="shape-rendering:auto"/>
<rect x="520" y="448.7" width="4.25" height="6.3" fill="#fff" style="shape-rendering:auto"/>
<rect x="520.9" y="442.9" width="1.25" height="4.2" fill="#fff" style="shape-rendering:auto"/>
<rect x="526" y="448.7" width="4.25" height="6.3" fill="#fff" style="shape-rendering:auto"/>
<rect x="526.9" y="442.9" width="1.25" height="4.2" fill="#fff" style="shape-rendering:auto"/>
<rect x="532" y="448.7" width="4.25" height="6.3" fill="#fff" style="shape-rendering:auto"/>
<rect x="532.9" y="442.9" width="1.25" height="4.2" fill="#fff" style="shape-rendering:auto"/>
<rect x="538" y="448.7" width="4.25" height="6.3" fill="#fff" style="shape-rendering:auto"/>
<rect x="538.9" y="442.9" width="1.25" height="4.2" fill="#fff" style="shape-rendering:auto"/>
<rect x="544" y="448.7" width="4.25" height="6.3" fill="#fff" style="shape-rendering:auto"/>
<rect x="544.9" y="442.9" width="1.25" height="4.2" fill="#fff" style="shape-rendering:auto"/>
<rect x="550" y="448.7" width="4.25" height="6.3" fill="#fff" style="shape-rendering:auto"/>
<rect x="550.9" y="442.9" width="1.25" height="4.2" fill="#fff" style="shape-rendering:auto"/>
<rect x="556" y="448.7" width="4.25" height="6.3" fill="#fff" style="shape-rendering:auto"/>
<rect x="556.9" y="442.9" width="1.25" height="4.2" fill="#fff" style="shape-rendering:auto"/>
<rect x="562" y="448.7" width="4.25" height="6.3" fill="#fff" style="shape-rendering:auto"/>
<rect x="562.9" y="442.9" width="1.25" height="4.2" fill="#fff" style="shape-rendering:auto"/>
<rect x="568" y="448.7" width="4.25" height="6.3" fill="#fff" style="shape-rendering:auto"/>
<rect x="568.9" y="442.9" width="1.25" height="4.2" fill="#fff" style="shape-rendering:auto"/>
<rect x="574" y="448.7" width="4.25" height="6.3" fill="#fff" style="shape-rendering:auto"/>
<rect x="574.9" y="442.9" width="1.25" height="4.2" fill="#fff" style="shape-rendering:auto"/>
<rect x="580" y="448.7" width="4.25" height="6.3" fill="#fff" style="shape-rendering:auto"/>
<rect x="580.9" y="442.9" width="1.25" height="4.2" fill="#fff" style="shape-rendering:auto"/>
<rect x="586" y="448.7" width="4.25" height="6.3" fill="#fff" style="shape-rendering:auto"/>
<rect x="586.9" y="442.9" width="1.25" height="4.2" fill="#fff" style="shape-rendering:auto"/>
<rect x="592" y="448.7" width="4.25" height="6.3" fill="#fff" style="shape-rendering:auto"/>
<rect x="592.9" y="442.9" width="1.25" height="4.2" fill="#fff" style="shape-rendering:auto"/>
<rect x="598" y="448.7" width="4.25" height="6.3" fill="#fff" style="shape-rendering:auto"/>
<rect x="598.9" y="442.9" width="1.25" height="4.2" fill="#fff" style="shape-rendering:auto"/>
<rect x="604" y="448.7" width="4.25" height="6.3" fill="#fff" style="shape-rendering:auto"/>
<rect x="604.9" y="442.9" width="1.25" height="4.2" fill="#fff" style="shape-rendering:auto"/>
<rect x="610" y="448.7" width="4.25" height="6.3" fill="#fff" style="shape-rendering:auto"/>
<rect x="610.9" y="442.9" width="1.25" height="4.2" fill="#fff" style="shape-rendering:auto"/>
<rect x="616" y="448.7" width="4.25" height="6.3" fill="#fff" style="shape-rendering:auto"/>
<rect x="616.9" y="442.9" width="1.25" height="4.2" fill="#fff" style="shape-rendering:auto"/>
<rect x="622" y="448.7" width="4.25" height="6.3" fill="#fff" style="shape-rendering:auto"/>
<rect x="622.9" y="442.9" width="1.25" height="4.2" fill="#fff" style="shape-rendering:auto"/>
<rect x="628" y="448.7" width="4.25" height="6.3" fill="#fff" style="shape-rendering:auto"/>
<rect x="628.9" y="442.9" width="1.25" height="4.2" fill="#fff" style="shape-rendering:auto"/>
<rect x="634" y="448.7" width="4.25" height="6.3" fill="#fff" style="shape-rendering:auto"/>
<rect x="634.9" y="442.9" width="1.25" height="4.2" fill="#fff" style="shape-rendering:auto"/>
<rect x="640" y="448.7" width="4.25" height="6.3" fill="#fff" style="shape-rendering:auto"/>
<rect x="640.9" y="442.9" width="1.25" height="4.2" fill="#fff" style="shape-rendering:auto"/>
<rect x="646" y="448.7" width="4.25" height="6.3" fill="#fff" style="shape-rendering:auto"/>
<rect x="646.9" y="442.9" width="1.25" height="4.2" fill="#fff" style="shape-rendering:auto"/>
<rect x="652" y="448.7" width="4.25" height="6.3" fill="#fff" style="shape-rendering:auto"/>
<rect x="652.9" y="442.9" width="1.25" height="4.2" fill="#fff" style="shape-rendering:auto"/>
<rect x="658" y="448.7" width="4.25" height="6.3" fill="#fff" style="shape-rendering:auto"/>
<rect x="658.9" y="442.9" width="1.25" height="4.2" fill="#fff" style="shape-rendering:auto"/>
<rect x="462.5" y="460.5" width="225" height="18" fill="#fff" stroke="#000" stroke-width="1"/>
<rect x="461.5" y="468.5" width="7" height="6.5" fill="#fff" stroke="#000"/>
<line x1="462" y1="467.5" x2="469" y2="467.5" stroke="#000"/>
<line x1="468.5" y1="460" x2="468.5" y2="468" stroke="#000"/>
<rect x="469.6" y="460" width="0.9" height="17" fill="#000" style="shape-rendering:auto"/>
<rect x="470.8" y="460" width="1.6" height="17" fill="#000" style="shape-rendering:auto"/>
<path d="M473.8,460.5 V474.3 H481.2 V466.2 H479.6 V460.5" fill="#fff" stroke="#000" stroke-width="1.5" />
<path d="M476,462.5 V466.3 H481" fill="none" stroke="#000" stroke-width="1.5" />
<rect x="680.5" y="468.5" width="7" height="6.5" fill="#fff" stroke="#000"/>
<line x1="680" y1="467.5" x2="688" y2="467.5" stroke="#000"/>
<line x1="680" y1="475.5" x2="688" y2="475.5" stroke="#000"/>
<line x1="680.5" y1="460" x2="680.5" y2="476" stroke="#000"/>
<rect x="677.6" y="460" width="1.6" height="17" fill="#000" style="shape-rendering:auto"/>
<path d="M676.2,460.5 V474.3 H667.2 V466.2 H670 V460.5" fill="#fff" stroke="#000" stroke-width="1.5" />
<path d="M674,462.5 V466.3 H669" fill="none" stroke="#000" stroke-width="1.5" />
<rect x="486" y="462" width="177" height="14" fill="#000" />
<rect x="486" y="462" width="1.5" height="6.5" fill="#fff" />
<rect x="661.5" y="462" width="1.5" height="6.5" fill="#fff" />
<rect x="487" y="469" width="1" height="6" fill="#fff" />
<rect x="490" y="468.7" width="4.25" height="6.3" fill="#fff" style="shape-rendering:auto"/>
<rect x="490.9" y="462.9" width="1.25" height="4.2" fill="#fff" style="shape-rendering:auto"/>
<rect x="496" y="468.7" width="4.25" height="6.3" fill="#fff" style="shape-rendering:auto"/>
<rect x="496.9" y="462.9" width="1.25" height="4.2" fill="#fff" style="shape-rendering:auto"/>
<rect x="502" y="468.7" width="4.25" height="6.3" fill="#fff" style="shape-rendering:auto"/>
<rect x="502.9" y="462.9" width="1.25" height="4.2" fill="#fff" style="shape-rendering:auto"/>
<rect x="508" y="468.7" width="4.25" height="6.3" fill="#fff" style="shape-rendering:auto"/>
<rect x="508.9" y="462.9" width="1.25" height="4.2" fill="#fff" style="shape-rendering:auto"/>
<rect x="514" y="468.7" width="4.25" height="6.3" fill="#fff" style="shape-rendering:auto"/>
<rect x="514.9" y="462.9" width="1.25" height="4.2" fill="#fff" style="shape-rendering:auto"/>
<rect x="520" y="468.7" width="4.25" height="6.3" fill="#fff" style="shape-rendering:auto"/>
<rect x="520.9" y="462.9" width="1.25" height="4.2" fill="#fff" style="shape-rendering:auto"/>
<rect x="526" y="468.7" width="4.25" height="6.3" fill="#fff" style="shape-rendering:auto"/>
<rect x="526.9" y="462.9" width="1.25" height="4.2" fill="#fff" style="shape-rendering:auto"/>
<rect x="532" y="468.7" width="4.25" height="6.3" fill="#fff" style="shape-rendering:auto"/>
<rect x="532.9" y="462.9" width="1.25" height="4.2" fill="#fff" style="shape-rendering:auto"/>
<rect x="538" y="468.7" width="4.25" height="6.3" fill="#fff" style="shape-rendering:auto"/>
<rect x="538.9" y="462.9" width="1.25" height="4.2" fill="#fff" style="shape-rendering:auto"/>
<rect x="544" y="468.7" width="4.25" height="6.3" fill="#fff" style="shape-rendering:auto"/>
<rect x="544.9" y="462.9" width="1.25" height="4.2" fill="#fff" style="shape-rendering:auto"/>
<rect x="550" y="468.7" width="4.25" height="6.3" fill="#fff" style="shape-rendering:auto"/>
<rect x="550.9" y="462.9" width="1.25" height="4.2" fill="#fff" style="shape-rendering:auto"/>
<rect x="556" y="468.7" width="4.25" height="6.3" fill="#fff" style="shape-rendering:auto"/>
<rect x="556.9" y="462.9" width="1.25" height="4.2" fill="#fff" style="shape-rendering:auto"/>
<rect x="562" y="468.7" width="4.25" height="6.3" fill="#fff" style="shape-rendering:auto"/>
<rect x="562.9" y="462.9" width="1.25" height="4.2" fill="#fff" style="shape-rendering:auto"/>
<rect x="568" y="468.7" width="4.25" height="6.3" fill="#fff" style="shape-rendering:auto"/>
<rect x="568.9" y="462.9" width="1.25" height="4.2" fill="#fff" style="shape-rendering:auto"/>
<rect x="574" y="468.7" width="4.25" height="6.3" fill="#fff" style="shape-rendering:auto"/>
<rect x="574.9" y="462.9" width="1.25" height="4.2" fill="#fff" style="shape-rendering:auto"/>
<rect x="580" y="468.7" width="4.25" height="6.3" fill="#fff" style="shape-rendering:auto"/>
<rect x="580.9" y="462.9" width="1.25" height="4.2" fill="#fff" style="shape-rendering:auto"/>
<rect x="586" y="468.7" width="4.25" height="6.3" fill="#fff" style="shape-rendering:auto"/>
<rect x="586.9" y="462.9" width="1.25" height="4.2" fill="#fff" style="shape-rendering:auto"/>
<rect x="592" y="468.7" width="4.25" height="6.3" fill="#fff" style="shape-rendering:auto"/>
<rect x="592.9" y="462.9" width="1.25" height="4.2" fill="#fff" style="shape-rendering:auto"/>
<rect x="598" y="468.7" width="4.25" height="6.3" fill="#fff" style="shape-rendering:auto"/>
<rect x="598.9" y="462.9" width="1.25" height="4.2" fill="#fff" style="shape-rendering:auto"/>
<rect x="604" y="468.7" width="4.25" height="6.3" fill="#fff" style="shape-rendering:auto"/>
<rect x="604.9" y="462.9" width="1.25" height="4.2" fill="#fff" style="shape-rendering:auto"/>
<rect x="610" y="468.7" width="4.25" height="6.3" fill="#fff" style="shape-rendering:auto"/>
<rect x="610.9" y="462.9" width="1.25" height="4.2" fill="#fff" style="shape-rendering:auto"/>
<rect x="616" y="468.7" width="4.25" height="6.3" fill="#fff" style="shape-rendering:auto"/>
<rect x="616.9" y="462.9" width="1.25" height="4.2" fill="#fff" style="shape-rendering:auto"/>
<rect x="622" y="468.7" width="4.25" height="6.3" fill="#fff" style="shape-rendering:auto"/>
<rect x="622.9" y="462.9" width="1.25" height="4.2" fill="#fff" style="shape-rendering:auto"/>
<rect x="628" y="468.7" width="4.25" height="6.3" fill="#fff" style="shape-rendering:auto"/>
<rect x="628.9" y="462.9" width="1.25" height="4.2" fill="#fff" style="shape-rendering:auto"/>
<rect x="634" y="468.7" width="4.25" height="6.3" fill="#fff" style="shape-rendering:auto"/>
<rect x="634.9" y="462.9" width="1.25" height="4.2" fill="#fff" style="shape-rendering:auto"/>
<rect x="640" y="468.7" width="4.25" height="6.3" fill="#fff" style="shape-rendering:auto"/>
<rect x="640.9" y="462.9" width="1.25" height="4.2" fill="#fff" style="shape-rendering:auto"/>
<rect x="646" y="468.7" width="4.25" height="6.3" fill="#fff" style="shape-rendering:auto"/>
<rect x="646.9" y="462.9" width="1.25" height="4.2" fill="#fff" style="shape-rendering:auto"/>
<rect x="652" y="468.7" width="4.25" height="6.3" fill="#fff" style="shape-rendering:auto"/>
<rect x="652.9" y="462.9" width="1.25" height="4.2" fill="#fff" style="shape-rendering:auto"/>
<rect x="658" y="468.7" width="4.25" height="6.3" fill="#fff" style="shape-rendering:auto"/>
<rect x="658.9" y="462.9" width="1.25" height="4.2" fill="#fff" style="shape-rendering:auto"/>
<rect x="462.5" y="480.5" width="225" height="18" fill="#fff" stroke="#000" stroke-width="1"/>
<rect x="461.5" y="488.5" width="7" height="6.5" fill="#fff" stroke="#000"/>
<line x1="462" y1="487.5" x2="469" y2="487.5" stroke="#000"/>
<line x1="468.5" y1="480" x2="468.5" y2="488" stroke="#000"/>
<rect x="469.6" y="480" width="0.9" height="17" fill="#000" style="shape-rendering:auto"/>
<rect x="470.8" y="480" width="1.6" height="17" fill="#000" style="shape-rendering:auto"/>
<path d="M473.8,480.5 V494.3 H481.2 V486.2 H479.6 V480.5" fill="#fff" stroke="#000" stroke-width="1.5" />
<path d="M476,482.5 V486.3 H481" fill="none" stroke="#000" stroke-width="1.5" />
<rect x="680.5" y="488.5" width="7" height="6.5" fill="#fff" stroke="#000"/>
<line x1="680" y1="487.5" x2="688" y2="487.5" stroke="#000"/>
<line x1="680" y1="495.5" x2="688" y2="495.5" stroke="#000"/>
<line x1="680.5" y1="480" x2="680.5" y2="496" stroke="#000"/>
<rect x="677.6" y="480" width="1.6" height="17" fill="#000" style="shape-rendering:auto"/>
<path d="M676.2,480.5 V494.3 H667.2 V486.2 H670 V480.5" fill="#fff" stroke="#000" stroke-width="1.5" />
<path d="M674,482.5 V486.3 H669" fill="none" stroke="#000" stroke-width="1.5" />
<rect x="486" y="482" width="177" height="14" fill="#000" />
<rect x="486" y="482" width="1.5" height="6.5" fill="#fff" />
<rect x="661.5" y="482" width="1.5" height="6.5" fill="#fff" />
<rect x="487" y="489" width="1" height="6" fill="#fff" />
<rect x="490" y="488.7" width="4.25" height="6.3" fill="#fff" style="shape-rendering:auto"/>
<rect x="490.9" y="482.9" width="1.25" height="4.2" fill="#fff" style="shape-rendering:auto"/>
<rect x="496" y="488.7" width="4.25" height="6.3" fill="#fff" style="shape-rendering:auto"/>
<rect x="496.9" y="482.9" width="1.25" height="4.2" fill="#fff" style="shape-rendering:auto"/>
<rect x="502" y="488.7" width="4.25" height="6.3" fill="#fff" style="shape-rendering:auto"/>
<rect x="502.9" y="482.9" width="1.25" height="4.2" fill="#fff" style="shape-rendering:auto"/>
<rect x="508" y="488.7" width="4.25" height="6.3" fill="#fff" style="shape-rendering:auto"/>
<rect x="508.9" y="482.9" width="1.25" height="4.2" fill="#fff" style="shape-rendering:auto"/>
<rect x="514" y="488.7" width="4.25" height="6.3" fill="#fff" style="shape-rendering:auto"/>
<rect x="514.9" y="482.9" width="1.25" height="4.2" fill="#fff" style="shape-rendering:auto"/>
<rect x="520" y="488.7" width="4.25" height="6.3" fill="#fff" style="shape-rendering:auto"/>
<rect x="520.9" y="482.9" width="1.25" height="4.2" fill="#fff" style="shape-rendering:auto"/>
<rect x="526" y="488.7" width="4.25" height="6.3" fill="#fff" style="shape-rendering:auto"/>
<rect x="526.9" y="482.9" width="1.25" height="4.2" fill="#fff" style="shape-rendering:auto"/>
<rect x="532" y="488.7" width="4.25" height="6.3" fill="#fff" style="shape-rendering:auto"/>
<rect x="532.9" y="482.9" width="1.25" height="4.2" fill="#fff" style="shape-rendering:auto"/>
<rect x="538" y="488.7" width="4.25" height="6.3" fill="#fff" style="shape-rendering:auto"/>
<rect x="538.9" y="482.9" width="1.25" height="4.2" fill="#fff" style="shape-rendering:auto"/>
<rect x="544" y="488.7" width="4.25" height="6.3" fill="#fff" style="shape-rendering:auto"/>
<rect x="544.9" y="482.9" width="1.25" height="4.2" fill="#fff" style="shape-rendering:auto"/>
<rect x="550" y="488.7" width="4.25" height="6.3" fill="#fff" style="shape-rendering:auto"/>
<rect x="550.9" y="482.9" width="1.25" height="4.2" fill="#fff" style="shape-rendering:auto"/>
<rect x="556" y="488.7" width="4.25" height="6.3" fill="#fff" style="shape-rendering:auto"/>
<rect x="556.9" y="482.9" width="1.25" height="4.2" fill="#fff" style="shape-rendering:auto"/>
<rect x="562" y="488.7" width="4.25" height="6.3" fill="#fff" style="shape-rendering:auto"/>
<rect x="562.9" y="482.9" width="1.25" height="4.2" fill="#fff" style="shape-rendering:auto"/>
<rect x="568" y="488.7" width="4.25" height="6.3" fill="#fff" style="shape-rendering:auto"/>
<rect x="568.9" y="482.9" width="1.25" height="4.2" fill="#fff" style="shape-rendering:auto"/>
<rect x="574" y="488.7" width="4.25" height="6.3" fill="#fff" style="shape-rendering:auto"/>
<rect x="574.9" y="482.9" width="1.25" height="4.2" fill="#fff" style="shape-rendering:auto"/>
<rect x="580" y="488.7" width="4.25" height="6.3" fill="#fff" style="shape-rendering:auto"/>
<rect x="580.9" y="482.9" width="1.25" height="4.2" fill="#fff" style="shape-rendering:auto"/>
<rect x="586" y="488.7" width="4.25" height="6.3" fill="#fff" style="shape-rendering:auto"/>
<rect x="586.9" y="482.9" width="1.25" height="4.2" fill="#fff" style="shape-rendering:auto"/>
<rect x="592" y="488.7" width="4.25" height="6.3" fill="#fff" style="shape-rendering:auto"/>
<rect x="592.9" y="482.9" width="1.25" height="4.2" fill="#fff" style="shape-rendering:auto"/>
<rect x="598" y="488.7" width="4.25" height="6.3" fill="#fff" style="shape-rendering:auto"/>
<rect x="598.9" y="482.9" width="1.25" height="4.2" fill="#fff" style="shape-rendering:auto"/>
<rect x="604" y="488.7" width="4.25" height="6.3" fill="#fff" style="shape-rendering:auto"/>
<rect x="604.9" y="482.9" width="1.25" height="4.2" fill="#fff" style="shape-rendering:auto"/>
<rect x="610" y="488.7" width="4.25" height="6.3" fill="#fff" style="shape-rendering:auto"/>
<rect x="610.9" y="482.9" width="1.25" height="4.2" fill="#fff" style="shape-rendering:auto"/>
<rect x="616" y="488.7" width="4.25" height="6.3" fill="#fff" style="shape-rendering:auto"/>
<rect x="616.9" y="482.9" width="1.25" height="4.2" fill="#fff" style="shape-rendering:auto"/>
<rect x="622" y="488.7" width="4.25" height="6.3" fill="#fff" style="shape-rendering:auto"/>
<rect x="622.9" y="482.9" width="1.25" height="4.2" fill="#fff" style="shape-rendering:auto"/>
<rect x="628" y="488.7" width="4.25" height="6.3" fill="#fff" style="shape-rendering:auto"/>
<rect x="628.9" y="482.9" width="1.25" height="4.2" fill="#fff" style="shape-rendering:auto"/>
<rect x="634" y="488.7" width="4.25" height="6.3" fill="#fff" style="shape-rendering:auto"/>
<rect x="634.9" y="482.9" width="1.25" height="4.2" fill="#fff" style="shape-rendering:auto"/>
<rect x="640" y="488.7" width="4.25" height="6.3" fill="#fff" style="shape-rendering:auto"/>
<rect x="640.9" y="482.9" width="1.25" height="4.2" fill="#fff" style="shape-rendering:auto"/>
<rect x="646" y="488.7" width="4.25" height="6.3" fill="#fff" style="shape-rendering:auto"/>
<rect x="646.9" y="482.9" width="1.25" height="4.2" fill="#fff" style="shape-rendering:auto"/>
<rect x="652" y="488.7" width="4.25" height="6.3" fill="#fff" style="shape-rendering:auto"/>
<rect x="652.9" y="482.9" width="1.25" height="4.2" fill="#fff" style="shape-rendering:auto"/>
<rect x="658" y="488.7" width="4.25" height="6.3" fill="#fff" style="shape-rendering:auto"/>
<rect x="658.9" y="482.9" width="1.25" height="4.2" fill="#fff" style="shape-rendering:auto"/>
<rect x="462.5" y="500.5" width="225" height="18" fill="#fff" stroke="#000" stroke-width="1"/>
<rect x="461.5" y="508.5" width="7" height="6.5" fill="#fff" stroke="#000"/>
<line x1="462" y1="507.5" x2="469" y2="507.5" stroke="#000"/>
<line x1="468.5" y1="500" x2="468.5" y2="508" stroke="#000"/>
<rect x="469.6" y="500" width="0.9" height="17" fill="#000" style="shape-rendering:auto"/>
<rect x="470.8" y="500" width="1.6" height="17" fill="#000" style="shape-rendering:auto"/>
<path d="M473.8,500.5 V514.3 H481.2 V506.2 H479.6 V500.5" fill="#fff" stroke="#000" stroke-width="1.5" />
<path d="M476,502.5 V506.3 H481" fill="none" stroke="#000" stroke-width="1.5" />
<rect x="680.5" y="508.5" width="7" height="6.5" fill="#fff" stroke="#000"/>
<line x1="680" y1="507.5" x2="688" y2="507.5" stroke="#000"/>
<line x1="680" y1="515.5" x2="688" y2="515.5" stroke="#000"/>
<line x1="680.5" y1="500" x2="680.5" y2="516" stroke="#000"/>
<rect x="677.6" y="500" width="1.6" height="17" fill="#000" style="shape-rendering:auto"/>
<path d="M676.2,500.5 V514.3 H667.2 V506.2 H670 V500.5" fill="#fff" stroke="#000" stroke-width="1.5" />
<path d="M674,502.5 V506.3 H669" fill="none" stroke="#000" stroke-width="1.5" />
<rect x="486" y="502" width="177" height="14" fill="#000" />
<rect x="486" y="502" width="1.5" height="6.5" fill="#fff" />
<rect x="661.5" y="502" width="1.5" height="6.5" fill="#fff" />
<rect x="487" y="509" width="1" height="6" fill="#fff" />
<rect x="490" y="508.7" width="4.25" height="6.3" fill="#fff" style="shape-rendering:auto"/>
<rect x="490.9" y="502.9" width="1.25" height="4.2" fill="#fff" style="shape-rendering:auto"/>
<rect x="496" y="508.7" width="4.25" height="6.3" fill="#fff" style="shape-rendering:auto"/>
<rect x="496.9" y="502.9" width="1.25" height="4.2" fill="#fff" style="shape-rendering:auto"/>
<rect x="502" y="508.7" width="4.25" height="6.3" fill="#fff" style="shape-rendering:auto"/>
<rect x="502.9" y="502.9" width="1.25" height="4.2" fill="#fff" style="shape-rendering:auto"/>
<rect x="508" y="508.7" width="4.25" height="6.3" fill="#fff" style="shape-rendering:auto"/>
<rect x="508.9" y="502.9" width="1.25" height="4.2" fill="#fff" style="shape-rendering:auto"/>
<rect x="514" y="508.7" width="4.25" height="6.3" fill="#fff" style="shape-rendering:auto"/>
<rect x="514.9" y="502.9" width="1.25" height="4.2" fill="#fff" style="shape-rendering:auto"/>
<rect x="520" y="508.7" width="4.25" height="6.3" fill="#fff" style="shape-rendering:auto"/>
<rect x="520.9" y="502.9" width="1.25" height="4.2" fill="#fff" style="shape-rendering:auto"/>
<rect x="526" y="508.7" width="4.25" height="6.3" fill="#fff" style="shape-rendering:auto"/>
<rect x="526.9" y="502.9" width="1.25" height="4.2" fill="#fff" style="shape-rendering:auto"/>
<rect x="532" y="508.7" width="4.25" height="6.3" fill="#fff" style="shape-rendering:auto"/>
<rect x="532.9" y="502.9" width="1.25" height="4.2" fill="#fff" style="shape-rendering:auto"/>
<rect x="538" y="508.7" width="4.25" height="6.3" fill="#fff" style="shape-rendering:auto"/>
<rect x="538.9" y="502.9" width="1.25" height="4.2" fill="#fff" style="shape-rendering:auto"/>
<rect x="544" y="508.7" width="4.25" height="6.3" fill="#fff" style="shape-rendering:auto"/>
<rect x="544.9" y="502.9" width="1.25" height="4.2" fill="#fff" style="shape-rendering:auto"/>
<rect x="550" y="508.7" width="4.25" height="6.3" fill="#fff" style="shape-rendering:auto"/>
<rect x="550.9" y="502.9" width="1.25" height="4.2" fill="#fff" style="shape-rendering:auto"/>
<rect x="556" y="508.7" width="4.25" height="6.3" fill="#fff" style="shape-rendering:auto"/>
<rect x="556.9" y="502.9" width="1.25" height="4.2" fill="#fff" style="shape-rendering:auto"/>
<rect x="562" y="508.7" width="4.25" height="6.3" fill="#fff" style="shape-rendering:auto"/>
<rect x="562.9" y="502.9" width="1.25" height="4.2" fill="#fff" style="shape-rendering:auto"/>
<rect x="568" y="508.7" width="4.25" height="6.3" fill="#fff" style="shape-rendering:auto"/>
<rect x="568.9" y="502.9" width="1.25" height="4.2" fill="#fff" style="shape-rendering:auto"/>
<rect x="574" y="508.7" width="4.25" height="6.3" fill="#fff" style="shape-rendering:auto"/>
<rect x="574.9" y="502.9" width="1.25" height="4.2" fill="#fff" style="shape-rendering:auto"/>
<rect x="580" y="508.7" width="4.25" height="6.3" fill="#fff" style="shape-rendering:auto"/>
<rect x="580.9" y="502.9" width="1.25" height="4.2" fill="#fff" style="shape-rendering:auto"/>
<rect x="586" y="508.7" width="4.25" height="6.3" fill="#fff" style="shape-rendering:auto"/>
<rect x="586.9" y="502.9" width="1.25" height="4.2" fill="#fff" style="shape-rendering:auto"/>
<rect x="592" y="508.7" width="4.25" height="6.3" fill="#fff" style="shape-rendering:auto"/>
<rect x="592.9" y="502.9" width="1.25" height="4.2" fill="#fff" style="shape-rendering:auto"/>
<rect x="598" y="508.7" width="4.25" height="6.3" fill="#fff" style="shape-rendering:auto"/>
<rect x="598.9" y="502.9" width="1.25" height="4.2" fill="#fff" style="shape-rendering:auto"/>
<rect x="604" y="508.7" width="4.25" height="6.3" fill="#fff" style="shape-rendering:auto"/>
<rect x="604.9" y="502.9" width="1.25" height="4.2" fill="#fff" style="shape-rendering:auto"/>
<rect x="610" y="508.7" width="4.25" height="6.3" fill="#fff" style="shape-rendering:auto"/>
<rect x="610.9" y="502.9" width="1.25" height="4.2" fill="#fff" style="shape-rendering:auto"/>
<rect x="616" y="508.7" width="4.25" height="6.3" fill="#fff" style="shape-rendering:auto"/>
<rect x="616.9" y="502.9" width="1.25" height="4.2" fill="#fff" style="shape-rendering:auto"/>
<rect x="622" y="508.7" width="4.25" height="6.3" fill="#fff" style="shape-rendering:auto"/>
<rect x="622.9" y="502.9" width="1.25" height="4.2" fill="#fff" style="shape-rendering:auto"/>
<rect x="628" y="508.7" width="4.25" height="6.3" fill="#fff" style="shape-rendering:auto"/>
<rect x="628.9" y="502.9" width="1.25" height="4.2" fill="#fff" style="shape-rendering:auto"/>
<rect x="634" y="508.7" width="4.25" height="6.3" fill="#fff" style="shape-rendering:auto"/>
<rect x="634.9" y="502.9" width="1.25" height="4.2" fill="#fff" style="shape-rendering:auto"/>
<rect x="640" y="508.7" width="4.25" height="6.3" fill="#fff" style="shape-rendering:auto"/>
<rect x="640.9" y="502.9" width="1.25" height="4.2" fill="#fff" style="shape-rendering:auto"/>
<rect x="646" y="508.7" width="4.25" height="6.3" fill="#fff" style="shape-rendering:auto"/>
<rect x="646.9" y="502.9" width="1.25" height="4.2" fill="#fff" style="shape-rendering:auto"/>
<rect x="652" y="508.7" width="4.25" height="6.3" fill="#fff" style="shape-rendering:auto"/>
<rect x="652.9" y="502.9" width="1.25" height="4.2" fill="#fff" style="shape-rendering:auto"/>
<rect x="658" y="508.7" width="4.25" height="6.3" fill="#fff" style="shape-rendering:auto"/>
<rect x="658.9" y="502.9" width="1.25" height="4.2" fill="#fff" style="shape-rendering:auto"/>
<rect x="696.5" y="407.5" width="24" height="111" fill="#fff" stroke="#000" stroke-width="1"/>
<line x1="712.5" y1="407" x2="712.5" y2="519" stroke="#000"/>
<path d="M701,408 l2,2 l2,-2 Z" fill="#000" stroke="none" stroke-width="0" />
<path d="M701,518 l2,-2 l2,2 Z" fill="#000" stroke="none" stroke-width="0" />
<rect x="700.5" y="413.5" width="6" height="6" fill="#fff" stroke="#000" style="shape-rendering:auto"/>
<rect x="708.4" y="409.4" width="2.6" height="5.8" rx="0.8" fill="#fff" stroke="#000" stroke-width="1.1" style="shape-rendering:auto"/>
<rect x="714" y="408.5" width="3.2" height="6.4" fill="#000" style="shape-rendering:auto"/>
<rect x="713" y="410.2" width="5.6" height="3" fill="#000" style="shape-rendering:auto"/>
<rect x="700.5" y="422.8" width="6" height="6" fill="#fff" stroke="#000" style="shape-rendering:auto"/>
<rect x="708.4" y="418.7" width="2.6" height="5.8" rx="0.8" fill="#fff" stroke="#000" stroke-width="1.1" style="shape-rendering:auto"/>
<rect x="714" y="417.8" width="3.2" height="6.4" fill="#000" style="shape-rendering:auto"/>
<rect x="713" y="419.5" width="5.6" height="3" fill="#000" style="shape-rendering:auto"/>
<rect x="700.5" y="432.1" width="6" height="6" fill="#fff" stroke="#000" style="shape-rendering:auto"/>
<rect x="708.4" y="428.0" width="2.6" height="5.8" rx="0.8" fill="#fff" stroke="#000" stroke-width="1.1" style="shape-rendering:auto"/>
<rect x="714" y="427.1" width="3.2" height="6.4" fill="#000" style="shape-rendering:auto"/>
<rect x="713" y="428.8" width="5.6" height="3" fill="#000" style="shape-rendering:auto"/>
<rect x="700.5" y="441.4" width="6" height="6" fill="#fff" stroke="#000" style="shape-rendering:auto"/>
<rect x="708.4" y="437.3" width="2.6" height="5.8" rx="0.8" fill="#fff" stroke="#000" stroke-width="1.1" style="shape-rendering:auto"/>
<rect x="714" y="436.4" width="3.2" height="6.4" fill="#000" style="shape-rendering:auto"/>
<rect x="713" y="438.1" width="5.6" height="3" fill="#000" style="shape-rendering:auto"/>
<rect x="700.5" y="450.7" width="6" height="6" fill="#fff" stroke="#000" style="shape-rendering:auto"/>
<rect x="708.4" y="446.6" width="2.6" height="5.8" rx="0.8" fill="#fff" stroke="#000" stroke-width="1.1" style="shape-rendering:auto"/>
<rect x="714" y="445.7" width="3.2" height="6.4" fill="#000" style="shape-rendering:auto"/>
<rect x="713" y="447.4" width="5.6" height="3" fill="#000" style="shape-rendering:auto"/>
<rect x="700.5" y="460.0" width="6" height="6" fill="#fff" stroke="#000" style="shape-rendering:auto"/>
<rect x="708.4" y="455.9" width="2.6" height="5.8" rx="0.8" fill="#fff" stroke="#000" stroke-width="1.1" style="shape-rendering:auto"/>
<rect x="714" y="455.0" width="3.2" height="6.4" fill="#000" style="shape-rendering:auto"/>
<rect x="713" y="456.7" width="5.6" height="3" fill="#000" style="shape-rendering:auto"/>
<rect x="700.5" y="469.3" width="6" height="6" fill="#fff" stroke="#000" style="shape-rendering:auto"/>
<rect x="708.4" y="465.2" width="2.6" height="5.8" rx="0.8" fill="#fff" stroke="#000" stroke-width="1.1" style="shape-rendering:auto"/>
<rect x="714" y="464.3" width="3.2" height="6.4" fill="#000" style="shape-rendering:auto"/>
<rect x="713" y="466.0" width="5.6" height="3" fill="#000" style="shape-rendering:auto"/>
<rect x="700.5" y="478.6" width="6" height="6" fill="#fff" stroke="#000" style="shape-rendering:auto"/>
<rect x="708.4" y="474.5" width="2.6" height="5.8" rx="0.8" fill="#fff" stroke="#000" stroke-width="1.1" style="shape-rendering:auto"/>
<rect x="714" y="473.6" width="3.2" height="6.4" fill="#000" style="shape-rendering:auto"/>
<rect x="713" y="475.3" width="5.6" height="3" fill="#000" style="shape-rendering:auto"/>
<rect x="700.5" y="487.9" width="6" height="6" fill="#fff" stroke="#000" style="shape-rendering:auto"/>
<rect x="708.4" y="483.8" width="2.6" height="5.8" rx="0.8" fill="#fff" stroke="#000" stroke-width="1.1" style="shape-rendering:auto"/>
<rect x="714" y="482.9" width="3.2" height="6.4" fill="#000" style="shape-rendering:auto"/>
<rect x="713" y="484.6" width="5.6" height="3" fill="#000" style="shape-rendering:auto"/>
<rect x="700.5" y="497.2" width="6" height="6" fill="#fff" stroke="#000" style="shape-rendering:auto"/>
<rect x="708.4" y="493.1" width="2.6" height="5.8" rx="0.8" fill="#fff" stroke="#000" stroke-width="1.1" style="shape-rendering:auto"/>
<rect x="714" y="492.2" width="3.2" height="6.4" fill="#000" style="shape-rendering:auto"/>
<rect x="713" y="493.9" width="5.6" height="3" fill="#000" style="shape-rendering:auto"/>
<rect x="700.5" y="506.5" width="6" height="6" fill="#fff" stroke="#000" style="shape-rendering:auto"/>
<rect x="708.4" y="502.4" width="2.6" height="5.8" rx="0.8" fill="#fff" stroke="#000" stroke-width="1.1" style="shape-rendering:auto"/>
<rect x="714" y="501.5" width="3.2" height="6.4" fill="#000" style="shape-rendering:auto"/>
<rect x="713" y="503.2" width="5.6" height="3" fill="#000" style="shape-rendering:auto"/>
<rect x="708.4" y="511.7" width="2.6" height="5.8" rx="0.8" fill="#fff" stroke="#000" stroke-width="1.1" style="shape-rendering:auto"/>
<rect x="714" y="510.8" width="3.2" height="6.4" fill="#000" style="shape-rendering:auto"/>
<rect x="713" y="512.5" width="5.6" height="3" fill="#000" style="shape-rendering:auto"/>
<rect x="755" y="447" width="24" height="37" fill="#000" />
<rect x="779" y="442" width="3" height="46" fill="#000" />
<rect x="782" y="440" width="4" height="51" fill="#000" />
<rect x="748.5" y="455.5" width="4" height="7.5" fill="#fff" stroke="#000"/>
<rect x="748.5" y="467.5" width="4" height="7.5" fill="#fff" stroke="#000"/>
<rect x="752.5" y="453.5" width="3" height="9.5" fill="#fff" stroke="#000"/>
<rect x="752.5" y="467.5" width="3" height="9.5" fill="#fff" stroke="#000"/>
<rect x="10" y="14" width="7" height="30.5" fill="#000" />
<rect x="11" y="21" width="5" height="1" fill="#fff" />
<rect x="11" y="26.5" width="5" height="1" fill="#fff" />
<rect x="11" y="32.5" width="5" height="1" fill="#fff" />
<rect x="11" y="38.5" width="5" height="1" fill="#fff" />
<rect x="11" y="15" width="5" height="4.6" fill="#fff" />
<rect x="12.2" y="15.8" width="2.5999999999999996" height="3.0" fill="#ccc" stroke="#000" stroke-width="0.7" style="shape-rendering:auto"/>
<rect x="15" y="21" width="1" height="23" fill="#fff" />
<rect x="10" y="48" width="7" height="25.7" fill="#000" />
<rect x="11" y="66" width="5" height="1" fill="#fff" />
<rect x="11" y="72" width="5" height="1" fill="#fff" />
<rect x="11" y="54.6" width="5" height="1.7" fill="#fff" />
<rect x="11" y="60" width="5" height="2" fill="#fff" />
<rect x="11" y="49" width="5" height="4.3" fill="#fff" />
<rect x="12.2" y="49.8" width="2.5999999999999996" height="2.7" fill="#ccc" stroke="#000" stroke-width="0.7" style="shape-rendering:auto"/>
<rect x="10" y="79" width="7" height="14" fill="#000" />
<rect x="11" y="80" width="5" height="1" fill="#fff" />
<rect x="11" y="86" width="5" height="1" fill="#fff" />
<rect x="11" y="91" width="5" height="1" fill="#fff" />
<rect x="25" y="80" width="7" height="13" fill="#000" />
<rect x="26" y="81.2" width="5" height="1" fill="#fff" />
<rect x="26" y="86" width="5" height="1" fill="#fff" />
<rect x="40" y="80" width="7" height="13" fill="#000" />
<rect x="41" y="81.2" width="5" height="1" fill="#fff" />
<rect x="41" y="86" width="5" height="1" fill="#fff" />
<rect x="149" y="80" width="7" height="19" fill="#000" />
<rect x="150" y="86" width="5" height="1" fill="#fff" />
<rect x="150" y="97.3" width="5" height="1" fill="#fff" />
<rect x="150" y="90.3" width="5" height="2.3" fill="#fff" />
<rect x="150" y="93.5" width="5" height="3.0" fill="#fff" />
<rect x="151.2" y="94.3" width="2.5999999999999996" height="1.4" fill="#ccc" stroke="#000" stroke-width="0.7" style="shape-rendering:auto"/>
<rect x="159" y="85" width="7" height="14" fill="#000" />
<rect x="160" y="86" width="5" height="1" fill="#fff" />
<rect x="160" y="92" width="5" height="1" fill="#fff" />
<rect x="160" y="97.2" width="5" height="1" fill="#fff" />
<rect x="126" y="119" width="6" height="19" fill="#000" />
<rect x="127" y="125" width="4" height="1" fill="#fff" />
<rect x="127" y="130" width="4" height="2.6" fill="#fff" />
<rect x="127" y="133.5" width="4" height="3.1" fill="#fff" />
<rect x="128.2" y="134.3" width="1.5999999999999996" height="1.5" fill="#ccc" stroke="#000" stroke-width="0.7" style="shape-rendering:auto"/>
<rect x="248.5" y="448.5" width="6" height="17.5" fill="#fff" stroke="#000"/>
<rect x="248" y="448" width="7" height="2.5" fill="#000" />
<rect x="248" y="448" width="2" height="18" fill="#000" />
<rect x="250" y="454" width="4" height="1" fill="#000" />
<rect x="250" y="458" width="4" height="1" fill="#000" />
<rect x="250" y="461" width="4" height="1" fill="#000" />
<rect x="251.3" y="462.6" width="1.8" height="1.8" fill="#bbb" stroke="#000" stroke-width="0.6"/>
<rect x="248" y="474" width="7" height="13.3" fill="#000" />
<rect x="249" y="475" width="5" height="2" fill="#fff" />
<rect x="249" y="479.5" width="5" height="2.1" fill="#fff" />
<rect x="249" y="484.5" width="5" height="1.8" fill="#fff" />
<rect x="238" y="496" width="7" height="13" fill="#000" />
<rect x="239" y="497.5" width="5" height="1" fill="#fff" />
<rect x="239" y="501.3" width="5" height="1" fill="#fff" />
<rect x="248" y="496" width="7" height="13" fill="#000" />
<rect x="249" y="497.5" width="5" height="1" fill="#fff" />
<rect x="249" y="501.3" width="5" height="1" fill="#fff" />
<rect x="258" y="496" width="7" height="13" fill="#000" />
<rect x="259" y="497.5" width="5" height="1" fill="#fff" />
<rect x="259" y="501.3" width="5" height="1" fill="#fff" />
<rect x="442" y="13" width="13" height="6" fill="#000" />
<rect x="447" y="14.5" width="1.2" height="3" fill="#fff" />
<rect x="748.5" y="131.5" width="25" height="6" fill="#fff" stroke="#000"/>
<rect x="750.5" y="133" width="4.5" height="3.5" fill="#000" />
<rect x="756.5" y="133" width="4.5" height="3.5" fill="#000" />
<rect x="762.5" y="133" width="4.5" height="3.5" fill="#000" />
<rect x="769.3" y="133.6" width="2" height="2" fill="#bbb" stroke="#000" stroke-width="0.6" style="shape-rendering:auto"/>
<path d="M35.4,26.0 L33.2,26.0 L31.5,26.7 L29.0,27.6 L24.3,29.0 L18.0,30.0 L18.0,31.4 L24.3,32.2 L29.0,33.6 L31.5,34.4 L33.4,35.0 L35.6,35.0 Z" fill="#000"/>
<rect x="33" y="21" width="26" height="19" rx="3.5" fill="#000" style="shape-rendering:auto"/>
<rect x="35" y="23" width="22" height="15" rx="2.0" fill="#fff" style="shape-rendering:auto"/>
<path d="M37.5,29.6 L27.1,29.8 L24.6,30.6 L27.1,31.4 L37.5,31.4 Z" fill="#fff"/>
<text transform="translate(45.2,34) scale(0.8,1)" font-size="13" textLength="16.7" lengthAdjust="spacing" fill="#000" text-anchor="middle">J3</text>
<path d="M34.5,56.5 L32.3,56.5 L30.5,57.2 L28.0,58.0 L23.3,59.4 L17.0,60.3 L17.0,61.7 L23.3,62.6 L28.0,64.0 L30.5,64.8 L32.3,65.5 L34.5,65.5 Z" fill="#000"/>
<rect x="32" y="52" width="26" height="18.5" rx="3.5" fill="#000" style="shape-rendering:auto"/>
<rect x="34" y="54" width="22" height="14.5" rx="2.0" fill="#fff" style="shape-rendering:auto"/>
<path d="M36.5,60.1 L26.1,60.2 L23.6,61.0 L26.1,61.8 L36.5,61.9 Z" fill="#fff"/>
<text transform="translate(43.0,65) scale(0.8,1)" font-size="13" textLength="16.6" lengthAdjust="spacing" fill="#000" text-anchor="middle">J1</text>
<path d="M66.5,82.2 L64.3,82.2 L62.5,82.8 L60.0,83.6 L54.0,85.0 L47.0,85.8 L47.0,87.2 L54.0,88.2 L60.0,89.7 L62.5,90.5 L64.3,91.2 L66.5,91.2 Z" fill="#000"/>
<rect x="64" y="78" width="29" height="18" rx="3.5" fill="#000" style="shape-rendering:auto"/>
<rect x="66" y="80" width="25" height="14" rx="2.0" fill="#fff" style="shape-rendering:auto"/>
<path d="M68.5,85.8 L57.2,85.8 L54.7,86.6 L57.2,87.4 L68.5,87.6 Z" fill="#fff"/>
<text transform="translate(79.1,90.8) scale(0.8,1)" font-size="13" textLength="29.4" lengthAdjust="spacing" fill="#000" text-anchor="middle">JP1</text>
<path d="M129.0,92.7 L131.2,92.9 L133.1,92.4 L135.7,91.9 L140.6,90.9 L146.9,90.7 L147.1,89.3 L140.9,87.8 L136.3,85.9 L133.9,84.8 L132.2,83.9 L130.0,83.7 Z" fill="#000"/>
<rect x="96" y="78" width="36" height="18.700000000000003" rx="3.5" fill="#000" style="shape-rendering:auto"/>
<rect x="98" y="80" width="32" height="14.700000000000003" rx="2.0" fill="#fff" style="shape-rendering:auto"/>
<path d="M127.4,88.9 L137.8,89.9 L140.4,89.3 L138.0,88.3 L127.6,87.1 Z" fill="#fff"/>
<text transform="translate(113.0,90.8) scale(0.8,1)" font-size="13" textLength="29.2" lengthAdjust="spacing" fill="#000" text-anchor="middle">JP3</text>
<path d="M185.2,86.4 L183.0,86.6 L181.2,87.4 L178.8,88.4 L174.2,90.1 L167.9,91.5 L168.1,92.9 L174.4,93.3 L179.2,94.4 L181.8,95.0 L183.6,95.6 L185.8,95.4 Z" fill="#000"/>
<rect x="183" y="81.3" width="35.5" height="18.200000000000003" rx="3.5" fill="#000" style="shape-rendering:auto"/>
<rect x="185" y="83.3" width="31.5" height="14.200000000000003" rx="2.0" fill="#fff" style="shape-rendering:auto"/>
<path d="M187.4,89.9 L177.0,90.7 L174.6,91.7 L177.1,92.3 L187.6,91.7 Z" fill="#fff"/>
<text transform="translate(199.6,94.5) scale(0.8,1)" font-size="13" textLength="29.0" lengthAdjust="spacing" fill="#000" text-anchor="middle">JP4</text>
<path d="M134.0,157.6 L134.0,155.4 L133.4,153.5 L132.6,151.0 L131.2,145.9 L130.4,139.3 L129.0,139.3 L128.0,145.8 L126.5,151.0 L125.7,153.5 L125.0,155.2 L125.0,157.4 Z" fill="#000"/>
<rect x="112.5" y="155" width="33.0" height="18.19999999999999" rx="3.5" fill="#000" style="shape-rendering:auto"/>
<rect x="114.5" y="157" width="29.0" height="14.199999999999989" rx="2.0" fill="#fff" style="shape-rendering:auto"/>
<path d="M130.4,159.5 L130.4,148.8 L129.6,146.3 L128.8,148.8 L128.6,159.5 Z" fill="#fff"/>
<text transform="translate(127.6,169.1) scale(0.8,1)" font-size="13" textLength="29.0" lengthAdjust="spacing" fill="#000" text-anchor="middle">JP2</text>
<path d="M28.9,109.3 L27.7,107.5 L26.2,106.4 L24.1,104.7 L19.0,99.6 L14.3,93.5 L12.7,94.5 L16.3,101.3 L18.9,108.1 L19.6,110.6 L20.0,112.5 L21.2,114.3 Z" fill="#000"/>
<rect x="8.3" y="109.5" width="24.999999999999996" height="18.0" rx="3.5" fill="#000" style="shape-rendering:auto"/>
<rect x="10.3" y="111.5" width="20.999999999999996" height="14.0" rx="2.0" fill="#fff" style="shape-rendering:auto"/>
<path d="M26.9,113.0 L20.2,102.9 L18.2,101.3 L18.9,103.8 L25.4,114.0 Z" fill="#fff"/>
<text transform="translate(19.3,122.5) scale(0.8,1)" font-size="13" textLength="16.1" lengthAdjust="spacing" fill="#000" text-anchor="middle">J4</text>
<rect x="36.5" y="103.5" width="22.0" height="14.5" rx="1" fill="#fff"/>
<text transform="translate(46.2,114.4) scale(0.8,1)" font-size="13" textLength="16.6" lengthAdjust="spacing" fill="#000" text-anchor="middle">J2</text>
<path d="M29,94 L40,105" fill="none" stroke="#000" stroke-width="2.2" />
<path d="M398.5,20.2 L400.7,20.2 L402.5,19.6 L405.0,18.8 L426.5,17.6 L443.0,16.9 L443.0,15.1 L426.5,14.4 L405.0,13.2 L402.5,12.4 L400.7,11.8 L398.5,11.8 Z" fill="#000"/>
<rect x="360" y="7.2" width="41" height="18.2" rx="3.5" fill="#000" style="shape-rendering:auto"/>
<rect x="362" y="9.2" width="37" height="14.2" rx="2.0" fill="#fff" style="shape-rendering:auto"/>
<path d="M396.5,16.9 L419.1,16.8 L421.6,16.0 L419.1,15.2 L396.5,15.1 Z" fill="#fff"/>
<text transform="translate(380.3,20.6) scale(0.8,1)" font-size="13" textLength="37.5" lengthAdjust="spacing" fill="#000" text-anchor="middle">JP12</text>
<path d="M755.7,111.0 L755.7,113.2 L756.3,115.0 L757.1,117.5 L758.4,123.2 L758.4,130.0 L761.6,130.0 L761.6,123.2 L762.9,117.5 L763.7,115.0 L764.3,113.2 L764.3,111.0 Z" fill="#000"/>
<rect x="744.3" y="95.2" width="33.40000000000009" height="18.099999999999994" rx="3.5" fill="#000" style="shape-rendering:auto"/>
<rect x="746.3" y="97.2" width="29.40000000000009" height="14.099999999999994" rx="2.0" fill="#fff" style="shape-rendering:auto"/>
<path d="M759.1,109.0 L759.2,120.1 L760.0,122.6 L760.8,120.1 L760.9,109.0 Z" fill="#fff"/>
<text transform="translate(758.7,107.6) scale(0.8,1)" font-size="13" textLength="26.5" lengthAdjust="spacing" fill="#000" text-anchor="middle">J22</text>
<rect x="102" y="281" width="50" height="18.80000000000001" rx="3.5" fill="#000" style="shape-rendering:auto"/>
<rect x="104" y="283" width="46" height="14.800000000000011" rx="2.0" fill="#fff" style="shape-rendering:auto"/>
<text transform="translate(126.6,293.7) scale(0.8,1)" font-size="13" textLength="55.6" lengthAdjust="spacing" fill="#000" text-anchor="middle">CACHE</text>
<rect x="237.3" y="354.2" width="32.30000000000001" height="17.100000000000023" rx="3.5" fill="#000" style="shape-rendering:auto"/>
<rect x="239.3" y="356.2" width="28.30000000000001" height="13.100000000000023" rx="2.0" fill="#fff" style="shape-rendering:auto"/>
<text transform="translate(252.6,367.8) scale(0.8,1)" font-size="13" textLength="28.4" lengthAdjust="spacing" fill="#000" text-anchor="middle">U34</text>
<path d="M247.0,428.0 L247.0,430.2 L247.7,432.0 L248.5,434.5 L249.9,440.2 L250.8,447.0 L252.2,447.0 L253.1,440.2 L254.5,434.5 L255.3,432.0 L256.0,430.2 L256.0,428.0 Z" fill="#000"/>
<rect x="235.5" y="413.5" width="32.5" height="17.100000000000023" rx="3.5" fill="#000" style="shape-rendering:auto"/>
<rect x="237.5" y="415.5" width="28.5" height="13.100000000000023" rx="2.0" fill="#fff" style="shape-rendering:auto"/>
<path d="M250.6,426.0 L250.7,437.1 L251.5,439.6 L252.3,437.1 L252.4,426.0 Z" fill="#fff"/>
<text transform="translate(250.1,425.3) scale(0.8,1)" font-size="13" textLength="27.7" lengthAdjust="spacing" fill="#000" text-anchor="middle">JP7</text>
<rect x="282" y="432" width="29.19999999999999" height="13.600000000000023" rx="1" fill="#fff"/>
<text transform="translate(294.8,443) scale(0.8,1)" font-size="13" textLength="29.0" lengthAdjust="spacing" fill="#000" text-anchor="middle">U35</text>
<path d="M236.0,483.8 L237.5,485.4 L239.2,486.3 L241.5,487.6 L246.3,490.6 L251.5,495.0 L252.5,494.0 L248.6,488.5 L245.9,483.5 L244.8,481.1 L244.1,479.3 L242.6,477.7 Z" fill="#000"/>
<rect x="212.6" y="470.4" width="31.200000000000017" height="15.400000000000034" rx="3.5" fill="#000" style="shape-rendering:auto"/>
<rect x="214.6" y="472.4" width="27.200000000000017" height="11.400000000000034" rx="2.0" fill="#fff" style="shape-rendering:auto"/>
<path d="M237.3,479.9 L244.8,487.9 L247.1,489.2 L246.0,486.8 L238.6,478.7 Z" fill="#fff"/>
<text transform="translate(226.4,481.8) scale(0.8,1)" font-size="13" textLength="27.1" lengthAdjust="spacing" fill="#000" text-anchor="middle">JP9</text>
<path d="M273.7,477.2 L271.5,477.2 L269.7,477.8 L267.1,478.5 L261.7,479.7 L255.0,480.3 L255.0,481.7 L261.6,482.9 L266.9,484.5 L269.3,485.4 L271.1,486.1 L273.3,486.2 Z" fill="#000"/>
<rect x="271" y="473.6" width="35.30000000000001" height="16.799999999999955" rx="3.5" fill="#000" style="shape-rendering:auto"/>
<rect x="273" y="475.6" width="31.30000000000001" height="12.799999999999955" rx="2.0" fill="#fff" style="shape-rendering:auto"/>
<path d="M275.5,480.9 L264.7,480.6 L262.1,481.3 L264.6,482.2 L275.5,482.7 Z" fill="#fff"/>
<text transform="translate(287.1,485.6) scale(0.8,1)" font-size="13" textLength="28.0" lengthAdjust="spacing" fill="#000" text-anchor="middle">JP8</text>
<path d="M218.9,509.6 L221.1,509.4 L222.8,508.5 L225.3,507.5 L231.1,505.5 L238.1,504.0 L237.9,502.6 L230.8,502.4 L224.7,501.5 L222.1,500.9 L220.3,500.4 L218.1,500.6 Z" fill="#000"/>
<rect x="186.6" y="496.4" width="34.30000000000001" height="17.600000000000023" rx="3.5" fill="#000" style="shape-rendering:auto"/>
<rect x="188.6" y="498.4" width="30.30000000000001" height="13.600000000000023" rx="2.0" fill="#fff" style="shape-rendering:auto"/>
<path d="M216.6,506.2 L227.9,505.0 L230.3,504.0 L227.8,503.4 L216.4,504.4 Z" fill="#fff"/>
<text transform="translate(201.6,508.4) scale(0.8,1)" font-size="13" textLength="29.2" lengthAdjust="spacing" fill="#000" text-anchor="middle">JP6</text>
<path d="M285.5,500.6 L283.3,500.4 L281.4,500.9 L278.9,501.4 L273.0,502.2 L266.1,502.3 L265.9,503.7 L272.7,505.4 L278.2,507.4 L280.6,508.5 L282.3,509.3 L284.5,509.6 Z" fill="#000"/>
<rect x="282.5" y="496.4" width="40.89999999999998" height="17.600000000000023" rx="3.5" fill="#000" style="shape-rendering:auto"/>
<rect x="284.5" y="498.4" width="36.89999999999998" height="13.600000000000023" rx="2.0" fill="#fff" style="shape-rendering:auto"/>
<path d="M287.1,504.4 L276.0,503.3 L273.4,503.8 L275.8,504.9 L286.9,506.2 Z" fill="#fff"/>
<text transform="translate(301.6,508.4) scale(0.8,1)" font-size="13" textLength="37.1" lengthAdjust="spacing" fill="#000" text-anchor="middle">JP10</text>
<rect x="39.6" y="399.7" width="58.9" height="16.100000000000023" rx="3.5" fill="#000" style="shape-rendering:auto"/>
<rect x="41.1" y="401.2" width="55.9" height="13.100000000000023" rx="2.5" fill="#fff" style="shape-rendering:auto"/>
<text transform="translate(66.9,410.7) scale(0.8,1)" font-size="13" textLength="58.6" lengthAdjust="spacing" fill="#000" text-anchor="middle">BANK 0</text>
<rect x="153" y="399.7" width="58.400000000000006" height="16.100000000000023" rx="3.5" fill="#000" style="shape-rendering:auto"/>
<rect x="154.5" y="401.2" width="55.400000000000006" height="13.100000000000023" rx="2.5" fill="#fff" style="shape-rendering:auto"/>
<text transform="translate(180.5,410.7) scale(0.8,1)" font-size="13" textLength="59.0" lengthAdjust="spacing" fill="#000" text-anchor="middle">BANK 1</text>
<rect x="545.8" y="382.8" width="58.80000000000007" height="16.5" rx="2.5" fill="#000" style="shape-rendering:auto"/>
<rect x="547.0" y="384.0" width="56.40000000000007" height="14.1" rx="1.8" fill="#fff" style="shape-rendering:auto"/>
<text transform="translate(572.8,394.6) scale(0.8,1)" font-size="13" textLength="59.0" lengthAdjust="spacing" fill="#000" text-anchor="middle">BANK 1</text>
<rect x="546.2" y="470.6" width="58.39999999999998" height="16.69999999999999" rx="2.5" fill="#000" style="shape-rendering:auto"/>
<rect x="547.4000000000001" y="471.8" width="55.99999999999998" height="14.299999999999988" rx="1.8" fill="#fff" style="shape-rendering:auto"/>
<text transform="translate(573.0,482.2) scale(0.8,1)" font-size="13" textLength="58.6" lengthAdjust="spacing" fill="#000" text-anchor="middle">BANK 0</text>
<rect x="168" y="34" width="41" height="13.5" rx="2" fill="#fff"/>
<text transform="translate(188.7,44.8) scale(0.8,1)" font-size="13" textLength="39.0" lengthAdjust="spacing" fill="#000" text-anchor="middle">BIOS</text>
<rect x="447.7" y="33.2" width="25.69999999999999" height="14.099999999999994" rx="0" fill="#fff"/>
<text transform="translate(461.1,44.6) scale(0.8,1)" font-size="13" textLength="30.2" lengthAdjust="spacing" fill="#000" text-anchor="middle">KBD</text>
<rect x="195" y="150" width="28" height="13.400000000000006" rx="0" fill="#fff"/>
<text transform="translate(209.5,161) scale(0.8,1)" font-size="13" textLength="33.0" lengthAdjust="spacing" fill="#000" text-anchor="middle">CPU</text>
<rect x="50.4" y="136.8" width="31.800000000000004" height="17.5" rx="3.5" fill="#000" style="shape-rendering:auto"/>
<rect x="52.4" y="138.8" width="27.800000000000004" height="13.5" rx="2.0" fill="#fff" style="shape-rendering:auto"/>
<text transform="translate(66.9,149.6) scale(0.8,1)" font-size="13" textLength="34.5" lengthAdjust="spacing" fill="#000" text-anchor="middle">NPU</text>
<text transform="translate(626.1,53.9) scale(0.8,1)" font-size="12.5" textLength="54.6" lengthAdjust="spacing" fill="#000" text-anchor="middle">MH0713</text>
<path d="M19,319.5 L30,308.5 H119 L126,303 L134,308.5 H222 L234,320" fill="none" stroke="#000" stroke-width="1.25" />
</g>
</svg>
</body></html>
